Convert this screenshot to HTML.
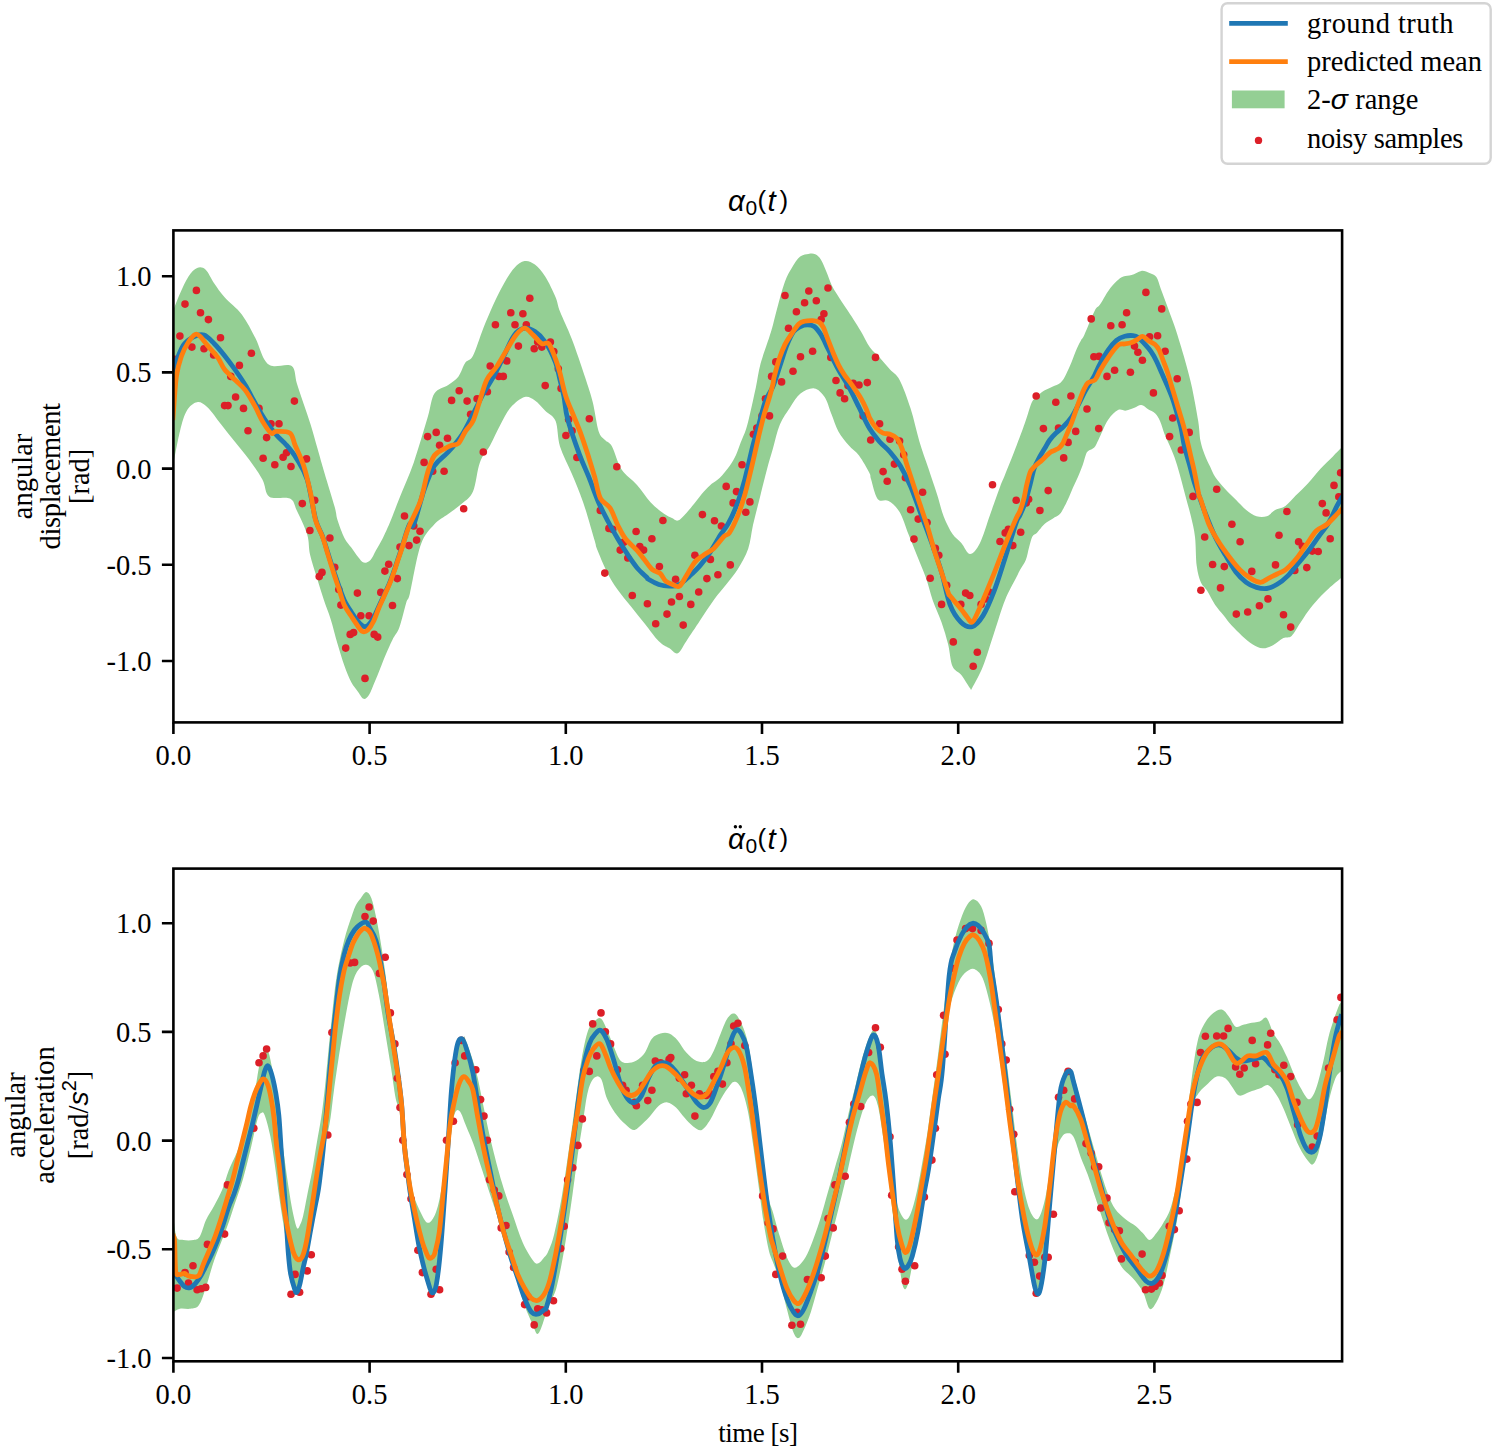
<!DOCTYPE html>
<html><head><meta charset="utf-8"><style>
html,body{margin:0;padding:0;background:#fff;}
body{width:1494px;height:1454px;overflow:hidden;}
svg{display:block;}
text{font-family:"Liberation Serif",serif;font-size:28.5px;fill:#000;}
.mi{font-family:"Liberation Sans",sans-serif;font-style:italic;font-size:29.5px;}
.ms{font-family:"Liberation Sans",sans-serif;font-size:21px;}
.mr{font-family:"Liberation Sans",sans-serif;font-style:normal;font-size:26px;}
.it{font-family:"Liberation Sans",sans-serif;font-style:italic;}
.sup{font-family:"Liberation Sans",sans-serif;font-size:20px;}
</style></head><body>
<svg width="1494" height="1454" viewBox="0 0 1494 1454">
<rect width="100%" height="100%" fill="#fff"/>
<clipPath id="ct"><rect x="173.4" y="230.4" width="1168.7" height="492.0"/></clipPath>
<g clip-path="url(#ct)">
<path d="M173.0,311.0C174.1,308.1 177.3,299.5 179.9,293.8C182.5,288.1 185.6,280.9 188.5,276.6C191.3,272.3 194.2,269.1 197.1,268.0C199.9,266.9 202.8,267.1 205.7,269.7C208.5,272.3 211.1,278.9 214.3,283.5C217.4,288.1 220.0,292.1 224.6,297.2C229.2,302.4 236.6,307.6 241.8,314.4C247.0,321.3 251.8,331.1 255.6,338.5C259.3,346.0 261.3,354.6 264.2,359.2C267.0,363.7 268.2,364.9 272.8,366.0C277.3,367.2 287.7,363.2 291.7,366.0C295.7,368.9 294.8,376.9 296.8,383.2C298.8,389.5 301.4,397.0 303.7,403.9C306.0,410.8 308.3,417.1 310.6,424.5C312.9,432.0 315.2,440.6 317.5,448.6C319.8,456.6 321.5,462.9 324.4,472.7C327.2,482.4 332.5,499.2 334.7,507.1C336.9,515.0 335.9,514.9 337.5,520.0C339.1,525.1 342.1,533.3 344.4,537.9C346.7,542.5 349.0,544.3 351.3,547.5C353.6,550.7 356.1,554.6 358.1,557.1C360.2,559.6 361.5,562.1 363.6,562.6C365.7,563.1 368.4,562.0 370.5,559.9C372.6,557.8 373.9,554.0 376.0,550.3C378.1,546.6 380.6,542.5 382.9,537.9C385.2,533.3 386.9,529.7 389.8,522.8C392.7,515.9 396.0,506.8 400.0,496.8C404.0,486.7 409.2,475.5 413.8,462.4C418.4,449.2 424.1,429.1 427.6,417.6C431.0,406.2 431.0,399.0 434.4,393.6C437.9,388.1 444.2,387.8 448.2,385.0C452.2,382.1 455.7,380.1 458.5,376.4C461.4,372.6 463.0,366.0 465.4,362.6C467.8,359.2 470.0,361.5 473.0,355.7C476.0,350.0 479.9,336.8 483.3,328.2C486.8,319.6 490.2,311.6 493.6,304.1C497.1,296.7 500.5,289.5 504.0,283.5C507.4,277.5 510.8,271.7 514.3,268.0C517.7,264.3 521.2,261.7 524.6,261.1C528.0,260.5 531.5,262.0 534.9,264.6C538.4,267.1 541.8,271.2 545.2,276.6C548.7,282.0 553.1,291.4 555.6,297.2C558.0,303.1 557.3,304.7 560.0,311.6C562.7,318.5 567.4,327.6 571.6,338.5C575.8,349.4 581.5,366.4 585.0,377.0C588.5,387.6 590.5,393.1 592.7,402.1C595.0,411.1 596.5,424.6 598.5,430.9C600.5,437.2 602.8,437.4 605.0,440.0C607.2,442.6 609.2,441.5 612.0,446.4C614.8,451.3 617.4,463.1 621.6,469.5C625.8,475.9 632.2,479.4 637.0,484.9C641.8,490.3 646.0,497.4 650.5,502.2C655.0,507.0 660.4,511.1 664.0,513.7C667.6,516.3 669.7,516.9 672.0,518.0C674.3,519.1 675.7,521.2 678.0,520.5C680.3,519.8 682.8,516.8 685.7,513.7C688.7,510.6 692.7,505.5 695.7,501.8C698.7,498.1 701.0,494.8 703.7,491.8C706.4,488.8 709.1,486.1 711.7,483.8C714.4,481.5 716.6,480.9 719.6,477.9C722.6,474.9 726.9,469.7 729.6,465.9C732.3,462.1 734.2,458.9 736.0,455.0C737.8,451.1 738.9,447.1 740.6,442.8C742.3,438.4 744.5,434.0 746.1,429.0C747.7,423.9 748.7,419.4 750.3,412.5C751.9,405.6 754.0,395.9 755.8,387.7C757.5,379.6 758.3,372.2 760.6,363.6C762.9,355.1 767.5,342.9 769.5,336.5C771.6,330.0 771.5,330.1 773.0,324.8C774.4,319.4 776.2,311.7 778.2,304.5C780.2,297.2 782.7,287.6 785.0,281.4C787.3,275.3 789.4,271.8 791.9,267.7C794.4,263.5 797.4,258.9 800.2,256.6C802.9,254.4 805.9,254.3 808.4,253.9C811.0,253.5 813.2,253.3 815.3,254.2C817.4,255.2 819.0,256.5 820.8,259.4C822.7,262.3 824.5,267.1 826.3,271.4C828.2,275.8 830.0,281.6 831.8,285.5C833.7,289.4 835.0,291.2 837.3,294.8C839.6,298.5 842.8,303.4 845.6,307.6C848.3,311.7 851.3,316.0 853.8,319.9C856.4,323.8 858.0,326.4 860.7,331.0C863.4,335.5 866.8,343.0 870.0,347.5C873.2,352.0 876.7,354.3 880.0,358.0C883.3,361.7 886.7,365.8 890.0,369.5C893.3,373.2 896.2,373.5 899.6,380.0C903.0,386.5 907.3,398.3 910.6,408.6C913.9,418.9 916.5,431.7 919.4,441.6C922.3,451.5 925.3,459.3 928.3,468.1C931.2,476.9 934.5,486.4 937.1,494.5C939.7,502.6 941.1,509.9 943.7,516.5C946.3,523.1 949.6,529.7 952.5,534.1C955.4,538.5 958.4,539.6 961.3,542.9C964.2,546.2 967.0,553.9 970.1,553.9C973.2,553.9 976.7,549.4 980.0,542.9C983.3,536.4 986.7,524.3 990.0,515.0C993.3,505.7 997.5,493.7 1000.0,487.0C1002.5,480.3 1002.7,480.4 1005.0,474.7C1007.3,469.0 1010.5,461.3 1013.8,452.7C1017.1,444.1 1022.0,431.3 1024.9,423.0C1027.9,414.7 1029.7,407.2 1031.5,403.0C1033.3,398.8 1034.2,399.8 1036.0,398.0C1037.8,396.2 1039.3,393.9 1042.0,392.0C1044.7,390.1 1049.2,388.4 1052.3,386.8C1055.4,385.2 1058.2,384.8 1060.5,382.7C1062.8,380.6 1064.2,377.8 1066.0,374.4C1067.8,370.9 1069.8,366.4 1071.6,362.0C1073.4,357.6 1075.4,352.0 1077.0,348.3C1078.6,344.6 1080.0,342.2 1081.2,340.0C1082.4,337.8 1082.0,339.9 1084.3,335.1C1086.5,330.2 1092.0,316.1 1094.6,311.0C1097.2,305.9 1097.7,307.9 1100.0,304.6C1102.3,301.3 1105.5,294.8 1108.3,290.9C1111.0,287.0 1114.0,283.7 1116.5,281.3C1119.0,278.9 1120.9,277.5 1123.4,276.5C1125.9,275.5 1128.6,276.0 1131.6,275.1C1134.6,274.2 1138.3,271.2 1141.3,270.9C1144.3,270.5 1147.0,272.0 1149.5,273.0C1152.0,274.0 1154.6,274.6 1156.4,277.1C1158.2,279.6 1159.1,284.4 1160.5,288.1C1161.9,291.8 1163.0,294.7 1164.6,299.1C1166.2,303.5 1168.3,309.2 1170.2,314.3C1172.1,319.4 1173.9,323.9 1175.7,329.4C1177.5,334.9 1179.4,341.1 1181.2,347.3C1183.0,353.5 1184.9,359.6 1186.7,366.5C1188.5,373.4 1190.3,379.5 1192.2,388.6C1194.1,397.7 1196.8,412.3 1198.2,421.0C1199.6,429.7 1199.4,435.4 1200.5,441.0C1201.6,446.6 1203.0,450.1 1204.6,454.4C1206.2,458.7 1208.4,463.0 1210.2,466.8C1212.0,470.6 1212.6,473.2 1215.2,477.0C1217.8,480.8 1222.1,485.6 1225.6,489.4C1229.0,493.2 1232.5,496.3 1235.9,499.7C1239.3,503.1 1242.8,507.2 1246.2,510.0C1249.6,512.8 1253.1,515.2 1256.5,516.2C1259.9,517.2 1263.7,517.2 1266.8,516.2C1269.9,515.2 1272.0,511.7 1275.1,510.0C1278.2,508.3 1282.0,508.3 1285.4,505.9C1288.8,503.5 1291.9,499.4 1295.7,495.6C1299.5,491.8 1304.0,487.7 1308.1,483.2C1312.2,478.7 1316.4,473.3 1320.5,468.8C1324.6,464.3 1329.5,459.8 1332.9,456.4C1336.3,452.9 1338.9,450.3 1341.1,448.1C1343.3,445.9 1345.2,443.9 1346.0,443.0L1346.0,574.0C1345.2,574.7 1344.0,575.7 1341.1,578.1C1338.2,580.5 1332.6,585.0 1328.8,588.5C1325.0,592.0 1321.9,595.0 1318.4,598.8C1315.0,602.6 1311.2,607.1 1308.1,611.2C1305.0,615.3 1302.7,619.5 1299.9,623.6C1297.2,627.7 1294.3,633.5 1291.6,635.9C1288.8,638.3 1286.5,636.5 1283.4,638.0C1280.3,639.5 1276.5,643.5 1273.0,645.2C1269.5,646.9 1266.1,648.5 1262.7,648.3C1259.3,648.1 1255.8,646.3 1252.4,644.2C1249.0,642.1 1245.5,639.0 1242.1,635.9C1238.6,632.8 1234.8,629.0 1231.7,625.6C1228.6,622.2 1226.2,618.7 1223.5,615.3C1220.8,611.9 1218.0,609.1 1215.2,605.0C1212.5,600.9 1209.4,594.3 1207.0,590.5C1204.6,586.7 1202.5,586.4 1200.8,582.3C1199.1,578.2 1197.7,573.4 1196.7,565.8C1195.7,558.2 1196.0,545.1 1195.0,536.9C1194.0,528.6 1192.5,523.2 1190.9,516.3C1189.3,509.4 1187.2,502.6 1185.4,495.7C1183.6,488.8 1181.7,481.4 1179.9,475.0C1178.1,468.6 1176.3,462.4 1174.4,457.1C1172.5,451.8 1170.2,446.9 1168.5,443.0C1166.8,439.1 1165.9,437.7 1164.5,434.0C1163.1,430.3 1161.6,424.4 1160.0,421.0C1158.4,417.6 1157.0,415.3 1155.0,413.3C1153.0,411.3 1150.4,410.6 1148.1,409.2C1145.8,407.8 1143.6,405.3 1141.3,405.1C1139.0,404.9 1136.9,406.9 1134.4,407.8C1131.9,408.7 1128.8,410.2 1126.1,410.6C1123.4,411.0 1121.0,408.4 1118.0,410.0C1115.0,411.6 1111.3,415.0 1108.0,420.0C1104.7,425.0 1100.7,435.4 1098.4,440.0C1096.1,444.6 1096.0,445.6 1094.3,447.4C1092.6,449.2 1089.9,449.6 1088.5,450.7C1087.1,451.8 1087.0,451.6 1086.1,454.0C1085.1,456.4 1084.2,460.9 1082.8,464.8C1081.4,468.7 1079.5,473.4 1077.8,477.2C1076.1,481.0 1074.4,484.2 1072.8,487.9C1071.2,491.6 1069.4,496.2 1067.9,499.5C1066.4,502.8 1065.2,505.2 1063.8,507.7C1062.4,510.2 1061.4,512.5 1059.6,514.3C1057.8,516.1 1055.2,517.0 1053.0,518.4C1050.8,519.8 1048.5,520.9 1046.4,522.6C1044.3,524.3 1042.2,526.6 1040.6,528.4C1038.9,530.2 1037.9,531.9 1036.5,533.3C1035.1,534.7 1033.6,534.3 1032.4,536.6C1031.2,538.9 1030.2,543.4 1029.1,547.3C1028.0,551.2 1027.3,556.2 1025.8,560.0C1024.3,563.8 1021.6,567.0 1020.0,570.0C1018.4,573.0 1018.5,573.1 1016.0,578.1C1013.5,583.1 1008.7,591.0 1005.0,600.2C1001.3,609.4 997.7,622.2 994.0,633.2C990.3,644.2 986.7,657.0 983.0,666.2C979.3,675.4 974.1,684.5 972.0,688.2C969.9,691.9 971.9,690.4 970.1,688.2C968.3,686.0 964.2,678.7 961.3,675.0C958.4,671.3 954.7,671.3 952.5,666.2C950.3,661.1 949.9,651.5 948.1,644.2C946.3,636.9 944.1,629.5 941.5,622.2C938.9,614.9 935.3,607.6 932.7,600.2C930.1,592.9 928.6,585.5 926.0,578.1C923.4,570.8 920.1,563.4 917.2,556.1C914.3,548.8 911.3,541.4 908.4,534.1C905.5,526.8 902.9,517.6 899.6,512.1C896.3,506.6 892.3,503.3 888.6,501.1C884.9,498.9 880.5,502.6 877.6,498.9C874.7,495.2 872.4,483.5 871.0,479.1C869.6,474.7 871.3,476.6 869.3,472.7C867.3,468.7 862.4,460.1 859.0,455.5C855.6,450.9 852.1,449.2 848.7,445.2C845.2,441.1 841.2,436.6 838.4,431.4C835.5,426.2 833.8,419.9 831.5,414.2C829.2,408.5 827.5,401.3 824.6,397.0C821.7,392.7 818.3,389.0 814.3,388.4C810.3,387.8 804.5,390.4 800.5,393.6C796.5,396.7 793.6,402.2 790.2,407.3C786.8,412.5 782.7,417.7 779.9,424.5C777.0,431.3 775.2,440.7 773.0,448.3C770.8,455.8 769.0,461.7 766.8,469.9C764.6,478.1 762.2,488.3 759.9,497.4C757.6,506.6 755.0,516.4 753.0,525.0C751.1,533.5 750.7,541.4 748.2,548.7C745.7,556.0 741.3,563.3 737.9,569.0C734.4,574.7 731.6,577.6 727.6,582.8C723.5,587.9 718.4,593.7 713.8,600.0C709.2,606.3 704.6,613.7 700.0,620.6C695.5,627.5 690.0,635.8 686.3,641.2C682.6,646.7 680.5,652.1 677.7,653.3C674.8,654.4 672.2,650.1 669.1,648.1C665.9,646.1 662.8,645.2 658.8,641.2C654.7,637.2 649.6,629.8 645.0,624.0C640.4,618.3 635.8,612.6 631.2,606.8C626.7,601.1 621.5,595.4 617.5,589.6C613.5,583.9 610.6,579.3 607.2,572.4C603.7,565.6 598.9,553.6 596.8,548.4C594.8,543.1 597.0,548.4 594.7,540.7C592.4,533.0 587.0,513.4 583.1,502.2C579.2,491.0 575.5,482.6 571.6,473.3C567.8,464.0 562.7,455.1 560.0,446.4C557.3,437.7 558.0,427.0 555.6,421.1C553.1,415.1 548.7,414.2 545.2,410.8C541.8,407.3 538.4,402.7 534.9,400.4C531.5,398.1 528.6,395.9 524.6,397.0C520.6,398.1 514.9,402.7 510.8,407.3C506.8,411.9 504.0,418.2 500.5,424.5C497.1,430.8 493.6,438.9 490.2,445.2C486.8,451.5 482.7,454.6 479.9,462.4C477.0,470.1 476.0,484.7 473.0,491.6C470.0,498.5 466.1,499.9 462.0,503.6C457.8,507.4 452.8,510.5 448.2,514.0C443.6,517.4 439.0,519.1 434.4,524.3C429.9,529.4 424.8,533.5 420.7,544.9C416.6,556.4 412.4,583.3 410.0,592.9C407.6,602.5 408.1,596.8 406.3,602.5C404.5,608.2 401.7,621.1 399.4,627.3C397.1,633.5 394.8,635.1 392.5,639.7C390.2,644.3 387.8,650.0 385.7,654.8C383.6,659.6 382.0,664.0 380.2,668.6C378.4,673.2 376.5,677.9 374.6,682.3C372.8,686.6 370.9,692.0 369.1,694.7C367.3,697.5 365.4,699.3 363.6,698.8C361.8,698.3 360.2,694.6 358.1,691.9C356.1,689.1 353.6,686.6 351.3,682.3C349.0,677.9 346.7,672.2 344.4,665.8C342.1,659.4 339.8,651.6 337.5,643.8C335.2,636.0 332.9,626.3 330.6,619.0C328.3,611.7 326.1,606.7 323.8,599.8C321.5,592.9 319.2,585.4 316.9,577.8C314.6,570.2 311.6,561.6 310.0,554.4C308.4,547.2 309.4,541.9 307.2,534.6C305.0,527.3 299.7,516.5 296.8,510.5C294.0,504.5 294.5,500.8 290.0,498.5C285.4,496.2 273.9,499.9 269.3,496.8C264.7,493.6 265.9,485.9 262.4,479.6C259.0,473.3 253.3,465.2 248.7,458.9C244.1,452.6 239.5,447.5 234.9,441.7C230.3,436.0 225.7,430.3 221.2,424.5C216.6,418.8 211.4,411.0 207.4,407.3C203.4,403.6 200.5,401.6 197.1,402.2C193.6,402.7 189.6,405.9 186.8,410.8C183.9,415.6 182.2,422.2 179.9,431.4C177.6,440.6 174.1,460.1 173.0,465.8Z" fill="#94cf94" stroke="none"/>
<g fill="#dc1f28"><circle cx="185.0" cy="304.1" r="3.8"/><circle cx="196.4" cy="290.4" r="3.8"/><circle cx="200.5" cy="312.7" r="3.8"/><circle cx="208.4" cy="319.6" r="3.8"/><circle cx="179.9" cy="336.1" r="3.8"/><circle cx="191.9" cy="347.1" r="3.8"/><circle cx="204.0" cy="348.8" r="3.8"/><circle cx="213.6" cy="355.0" r="3.8"/><circle cx="220.5" cy="337.8" r="3.8"/><circle cx="251.4" cy="353.3" r="3.8"/><circle cx="239.4" cy="365.4" r="3.8"/><circle cx="230.8" cy="376.4" r="3.8"/><circle cx="235.6" cy="397.0" r="3.8"/><circle cx="224.6" cy="405.6" r="3.8"/><circle cx="228.0" cy="405.6" r="3.8"/><circle cx="243.5" cy="408.4" r="3.8"/><circle cx="259.0" cy="408.4" r="3.8"/><circle cx="248.0" cy="430.7" r="3.8"/><circle cx="266.6" cy="437.6" r="3.8"/><circle cx="271.0" cy="423.8" r="3.8"/><circle cx="279.0" cy="423.8" r="3.8"/><circle cx="294.4" cy="401.1" r="3.8"/><circle cx="263.1" cy="458.2" r="3.8"/><circle cx="274.8" cy="464.8" r="3.8"/><circle cx="283.1" cy="457.2" r="3.8"/><circle cx="286.5" cy="452.7" r="3.8"/><circle cx="291.0" cy="466.5" r="3.8"/><circle cx="306.5" cy="458.9" r="3.8"/><circle cx="302.3" cy="503.6" r="3.8"/><circle cx="314.7" cy="500.2" r="3.8"/><circle cx="309.9" cy="530.5" r="3.8"/><circle cx="329.9" cy="538.0" r="3.8"/><circle cx="319.2" cy="576.6" r="3.8"/><circle cx="322.0" cy="572.4" r="3.8"/><circle cx="334.7" cy="567.3" r="3.8"/><circle cx="338.8" cy="589.6" r="3.8"/><circle cx="340.9" cy="605.1" r="3.8"/><circle cx="357.4" cy="593.1" r="3.8"/><circle cx="360.8" cy="615.8" r="3.8"/><circle cx="369.1" cy="615.8" r="3.8"/><circle cx="350.2" cy="634.4" r="3.8"/><circle cx="353.6" cy="632.6" r="3.8"/><circle cx="345.7" cy="648.1" r="3.8"/><circle cx="365.0" cy="678.4" r="3.8"/><circle cx="374.2" cy="634.4" r="3.8"/><circle cx="377.7" cy="637.1" r="3.8"/><circle cx="380.8" cy="592.4" r="3.8"/><circle cx="384.9" cy="571.1" r="3.8"/><circle cx="388.7" cy="564.2" r="3.8"/><circle cx="392.5" cy="605.5" r="3.8"/><circle cx="397.3" cy="578.6" r="3.8"/><circle cx="404.5" cy="516.0" r="3.8"/><circle cx="400.0" cy="547.0" r="3.8"/><circle cx="409.0" cy="545.6" r="3.8"/><circle cx="416.6" cy="540.1" r="3.8"/><circle cx="420.0" cy="531.2" r="3.8"/><circle cx="413.8" cy="526.0" r="3.8"/><circle cx="424.1" cy="462.4" r="3.8"/><circle cx="427.6" cy="436.6" r="3.8"/><circle cx="436.2" cy="432.4" r="3.8"/><circle cx="439.6" cy="445.2" r="3.8"/><circle cx="447.5" cy="438.3" r="3.8"/><circle cx="444.1" cy="471.3" r="3.8"/><circle cx="432.7" cy="471.3" r="3.8"/><circle cx="451.6" cy="400.4" r="3.8"/><circle cx="459.2" cy="390.8" r="3.8"/><circle cx="467.1" cy="401.1" r="3.8"/><circle cx="470.6" cy="414.2" r="3.8"/><circle cx="463.7" cy="508.8" r="3.8"/><circle cx="174.7" cy="359.2" r="3.8"/><circle cx="483.3" cy="452.0" r="3.8"/><circle cx="477.1" cy="398.7" r="3.8"/><circle cx="487.4" cy="391.8" r="3.8"/><circle cx="490.2" cy="366.0" r="3.8"/><circle cx="495.4" cy="324.8" r="3.8"/><circle cx="498.8" cy="376.4" r="3.8"/><circle cx="503.3" cy="376.4" r="3.8"/><circle cx="506.7" cy="360.9" r="3.8"/><circle cx="510.8" cy="312.7" r="3.8"/><circle cx="515.0" cy="324.8" r="3.8"/><circle cx="518.4" cy="346.1" r="3.8"/><circle cx="522.9" cy="313.8" r="3.8"/><circle cx="526.3" cy="324.8" r="3.8"/><circle cx="529.8" cy="298.3" r="3.8"/><circle cx="534.2" cy="348.8" r="3.8"/><circle cx="537.7" cy="342.0" r="3.8"/><circle cx="541.8" cy="347.1" r="3.8"/><circle cx="550.4" cy="342.0" r="3.8"/><circle cx="553.8" cy="351.6" r="3.8"/><circle cx="545.2" cy="385.6" r="3.8"/><circle cx="558.3" cy="368.8" r="3.8"/><circle cx="561.1" cy="388.4" r="3.8"/><circle cx="568.6" cy="419.4" r="3.8"/><circle cx="572.1" cy="430.7" r="3.8"/><circle cx="565.9" cy="435.5" r="3.8"/><circle cx="576.9" cy="457.5" r="3.8"/><circle cx="589.3" cy="418.7" r="3.8"/><circle cx="616.8" cy="466.8" r="3.8"/><circle cx="600.3" cy="510.5" r="3.8"/><circle cx="608.9" cy="528.4" r="3.8"/><circle cx="612.7" cy="529.4" r="3.8"/><circle cx="620.2" cy="550.1" r="3.8"/><circle cx="623.7" cy="542.2" r="3.8"/><circle cx="627.8" cy="558.0" r="3.8"/><circle cx="636.1" cy="531.5" r="3.8"/><circle cx="639.8" cy="546.6" r="3.8"/><circle cx="643.6" cy="550.1" r="3.8"/><circle cx="651.9" cy="538.7" r="3.8"/><circle cx="659.4" cy="566.6" r="3.8"/><circle cx="662.9" cy="520.5" r="3.8"/><circle cx="604.8" cy="573.1" r="3.8"/><circle cx="632.3" cy="595.5" r="3.8"/><circle cx="647.4" cy="603.7" r="3.8"/><circle cx="655.7" cy="623.7" r="3.8"/><circle cx="667.0" cy="614.1" r="3.8"/><circle cx="671.5" cy="602.0" r="3.8"/><circle cx="675.6" cy="579.3" r="3.8"/><circle cx="679.4" cy="596.5" r="3.8"/><circle cx="683.2" cy="625.1" r="3.8"/><circle cx="690.8" cy="604.4" r="3.8"/><circle cx="694.9" cy="555.2" r="3.8"/><circle cx="698.7" cy="592.0" r="3.8"/><circle cx="702.4" cy="514.6" r="3.8"/><circle cx="706.9" cy="578.6" r="3.8"/><circle cx="710.4" cy="559.4" r="3.8"/><circle cx="714.5" cy="520.8" r="3.8"/><circle cx="717.9" cy="574.8" r="3.8"/><circle cx="721.4" cy="526.0" r="3.8"/><circle cx="726.2" cy="486.4" r="3.8"/><circle cx="730.3" cy="564.9" r="3.8"/><circle cx="733.1" cy="502.9" r="3.8"/><circle cx="736.5" cy="491.6" r="3.8"/><circle cx="742.0" cy="464.8" r="3.8"/><circle cx="745.8" cy="512.2" r="3.8"/><circle cx="749.9" cy="501.9" r="3.8"/><circle cx="753.4" cy="434.2" r="3.8"/><circle cx="756.8" cy="428.0" r="3.8"/><circle cx="762.0" cy="415.9" r="3.8"/><circle cx="765.4" cy="398.7" r="3.8"/><circle cx="769.5" cy="415.9" r="3.8"/><circle cx="771.6" cy="376.4" r="3.8"/><circle cx="785.0" cy="295.5" r="3.8"/><circle cx="796.4" cy="311.7" r="3.8"/><circle cx="804.6" cy="302.7" r="3.8"/><circle cx="808.8" cy="291.0" r="3.8"/><circle cx="816.3" cy="300.7" r="3.8"/><circle cx="823.9" cy="313.8" r="3.8"/><circle cx="828.0" cy="288.0" r="3.8"/><circle cx="821.2" cy="319.6" r="3.8"/><circle cx="788.5" cy="328.2" r="3.8"/><circle cx="800.5" cy="356.8" r="3.8"/><circle cx="812.6" cy="351.2" r="3.8"/><circle cx="793.0" cy="371.2" r="3.8"/><circle cx="781.6" cy="381.9" r="3.8"/><circle cx="775.8" cy="361.9" r="3.8"/><circle cx="830.8" cy="357.4" r="3.8"/><circle cx="836.0" cy="380.5" r="3.8"/><circle cx="840.1" cy="392.9" r="3.8"/><circle cx="844.6" cy="398.7" r="3.8"/><circle cx="848.0" cy="385.6" r="3.8"/><circle cx="853.2" cy="383.2" r="3.8"/><circle cx="859.0" cy="385.0" r="3.8"/><circle cx="867.3" cy="382.6" r="3.8"/><circle cx="875.5" cy="357.4" r="3.8"/><circle cx="863.1" cy="415.9" r="3.8"/><circle cx="870.7" cy="440.0" r="3.8"/><circle cx="879.6" cy="423.8" r="3.8"/><circle cx="890.0" cy="439.3" r="3.8"/><circle cx="899.6" cy="441.0" r="3.8"/><circle cx="903.7" cy="454.8" r="3.8"/><circle cx="894.4" cy="464.1" r="3.8"/><circle cx="883.1" cy="471.6" r="3.8"/><circle cx="887.2" cy="481.3" r="3.8"/><circle cx="905.4" cy="477.8" r="3.8"/><circle cx="910.6" cy="509.8" r="3.8"/><circle cx="918.2" cy="519.1" r="3.8"/><circle cx="922.6" cy="492.3" r="3.8"/><circle cx="927.1" cy="522.6" r="3.8"/><circle cx="914.0" cy="539.1" r="3.8"/><circle cx="935.4" cy="548.4" r="3.8"/><circle cx="938.8" cy="555.2" r="3.8"/><circle cx="930.2" cy="578.3" r="3.8"/><circle cx="946.7" cy="585.2" r="3.8"/><circle cx="941.6" cy="604.4" r="3.8"/><circle cx="960.8" cy="604.4" r="3.8"/><circle cx="965.6" cy="593.1" r="3.8"/><circle cx="969.8" cy="595.5" r="3.8"/><circle cx="953.3" cy="641.9" r="3.8"/><circle cx="977.3" cy="652.2" r="3.8"/><circle cx="973.2" cy="666.3" r="3.8"/><circle cx="981.1" cy="604.4" r="3.8"/><circle cx="985.6" cy="598.9" r="3.8"/><circle cx="989.0" cy="592.0" r="3.8"/><circle cx="992.5" cy="484.7" r="3.8"/><circle cx="1000.0" cy="541.5" r="3.8"/><circle cx="1005.2" cy="532.9" r="3.8"/><circle cx="1008.3" cy="529.4" r="3.8"/><circle cx="1012.8" cy="545.6" r="3.8"/><circle cx="1016.2" cy="500.2" r="3.8"/><circle cx="1020.7" cy="532.2" r="3.8"/><circle cx="1026.2" cy="502.9" r="3.8"/><circle cx="1028.6" cy="499.2" r="3.8"/><circle cx="1036.2" cy="396.0" r="3.8"/><circle cx="1043.4" cy="428.6" r="3.8"/><circle cx="1048.2" cy="490.6" r="3.8"/><circle cx="1039.9" cy="510.5" r="3.8"/><circle cx="1055.8" cy="402.2" r="3.8"/><circle cx="1058.5" cy="428.0" r="3.8"/><circle cx="1063.7" cy="457.9" r="3.8"/><circle cx="1068.1" cy="442.4" r="3.8"/><circle cx="1070.9" cy="396.0" r="3.8"/><circle cx="1075.7" cy="431.4" r="3.8"/><circle cx="1091.2" cy="318.9" r="3.8"/><circle cx="1093.9" cy="356.8" r="3.8"/><circle cx="1099.1" cy="356.4" r="3.8"/><circle cx="1087.0" cy="409.0" r="3.8"/><circle cx="1098.7" cy="428.6" r="3.8"/><circle cx="1107.0" cy="376.4" r="3.8"/><circle cx="1110.8" cy="325.8" r="3.8"/><circle cx="1114.6" cy="370.2" r="3.8"/><circle cx="1122.1" cy="324.8" r="3.8"/><circle cx="1126.6" cy="312.7" r="3.8"/><circle cx="1130.4" cy="372.2" r="3.8"/><circle cx="1134.5" cy="346.1" r="3.8"/><circle cx="1137.9" cy="352.3" r="3.8"/><circle cx="1142.4" cy="360.2" r="3.8"/><circle cx="1145.9" cy="292.4" r="3.8"/><circle cx="1149.6" cy="336.8" r="3.8"/><circle cx="1157.6" cy="335.8" r="3.8"/><circle cx="1161.7" cy="308.9" r="3.8"/><circle cx="1165.1" cy="351.2" r="3.8"/><circle cx="1153.4" cy="392.9" r="3.8"/><circle cx="1177.2" cy="378.8" r="3.8"/><circle cx="1172.7" cy="418.0" r="3.8"/><circle cx="1169.6" cy="436.6" r="3.8"/><circle cx="1181.3" cy="450.0" r="3.8"/><circle cx="1189.2" cy="432.4" r="3.8"/><circle cx="1193.0" cy="496.4" r="3.8"/><circle cx="1216.7" cy="489.2" r="3.8"/><circle cx="1204.7" cy="537.0" r="3.8"/><circle cx="1231.9" cy="524.3" r="3.8"/><circle cx="1240.1" cy="541.8" r="3.8"/><circle cx="1212.6" cy="564.5" r="3.8"/><circle cx="1224.3" cy="566.6" r="3.8"/><circle cx="1200.9" cy="590.3" r="3.8"/><circle cx="1220.5" cy="587.9" r="3.8"/><circle cx="1236.3" cy="614.1" r="3.8"/><circle cx="1247.7" cy="612.0" r="3.8"/><circle cx="1259.4" cy="605.8" r="3.8"/><circle cx="1268.0" cy="598.9" r="3.8"/><circle cx="1251.8" cy="571.4" r="3.8"/><circle cx="1275.5" cy="564.9" r="3.8"/><circle cx="1279.0" cy="535.3" r="3.8"/><circle cx="1283.5" cy="614.7" r="3.8"/><circle cx="1290.7" cy="627.1" r="3.8"/><circle cx="1286.9" cy="511.5" r="3.8"/><circle cx="1294.8" cy="570.4" r="3.8"/><circle cx="1298.6" cy="541.8" r="3.8"/><circle cx="1302.4" cy="546.3" r="3.8"/><circle cx="1306.8" cy="567.6" r="3.8"/><circle cx="1312.3" cy="551.1" r="3.8"/><circle cx="1318.2" cy="551.5" r="3.8"/><circle cx="1322.3" cy="503.6" r="3.8"/><circle cx="1326.1" cy="512.9" r="3.8"/><circle cx="1330.2" cy="538.7" r="3.8"/><circle cx="1334.0" cy="485.4" r="3.8"/><circle cx="1338.8" cy="496.8" r="3.8"/><circle cx="1340.6" cy="472.7" r="3.8"/></g>
<path d="M173.0,369.5C174.7,365.5 179.9,350.8 183.3,345.4C186.8,340.0 190.2,338.5 193.6,336.8C197.1,335.1 200.5,333.9 204.0,335.1C207.4,336.2 210.8,340.2 214.3,343.7C217.7,347.1 221.2,351.4 224.6,355.7C228.0,360.0 231.5,364.6 234.9,369.5C238.4,374.4 241.8,379.2 245.2,385.0C248.7,390.7 252.1,397.9 255.6,403.9C259.0,409.9 262.4,415.9 265.9,421.1C269.3,426.2 272.8,430.8 276.2,434.8C279.6,438.9 283.1,441.1 286.5,445.2C290.0,449.2 293.4,453.2 296.8,458.9C300.3,464.7 304.0,469.5 307.2,479.6C310.3,489.6 313.0,509.6 315.5,519.0C318.0,528.4 320.3,530.3 322.4,536.0C324.5,541.7 326.1,547.3 327.9,553.0C329.7,558.7 331.6,564.5 333.4,570.0C335.2,575.5 337.1,580.9 338.9,586.0C340.7,591.1 342.3,596.2 344.4,600.5C346.5,604.8 349.2,608.8 351.3,612.0C353.4,615.2 355.0,617.8 356.8,620.0C358.6,622.2 360.6,624.4 362.0,625.5C363.4,626.6 363.9,626.7 365.0,626.6C366.1,626.5 367.1,626.4 368.5,625.0C369.9,623.6 371.6,621.6 373.3,618.5C375.0,615.4 377.0,610.5 378.8,606.5C380.6,602.5 382.5,598.7 384.3,594.7C386.1,590.7 388.2,586.2 389.8,582.3C391.4,578.4 392.5,575.2 393.9,571.3C395.3,567.4 396.6,563.1 398.0,559.0C399.4,554.9 400.8,550.8 402.2,546.5C403.6,542.2 405.0,536.8 406.3,533.0C407.6,529.2 408.8,525.0 410.0,523.5C411.2,522.0 411.4,529.9 413.8,524.3C416.2,518.7 420.7,499.6 424.1,489.9C427.6,480.1 430.4,472.1 434.4,465.8C438.5,459.5 443.6,457.2 448.2,452.0C452.8,446.9 457.8,441.1 462.0,434.8C466.1,428.5 469.4,421.1 473.0,414.2C476.5,407.3 479.9,399.9 483.3,393.6C486.8,387.3 490.2,382.7 493.6,376.4C497.1,370.1 500.5,362.6 504.0,355.7C507.4,348.8 510.8,339.7 514.3,335.1C517.7,330.5 521.2,328.8 524.6,328.2C528.0,327.6 531.5,329.3 534.9,331.6C538.4,333.9 541.8,336.8 545.2,342.0C548.7,347.1 553.1,356.3 555.6,362.6C558.0,368.9 558.6,374.4 560.0,380.0C561.4,385.6 562.6,389.7 563.9,396.3C565.2,402.9 565.1,409.8 567.7,419.4C570.3,429.0 575.8,444.5 579.3,454.1C582.8,463.7 585.7,469.2 588.9,477.2C592.1,485.2 595.3,494.8 598.5,502.2C601.7,509.6 604.9,515.4 608.1,521.5C611.3,527.6 614.6,533.3 617.8,538.8C621.0,544.2 624.2,549.4 627.4,554.2C630.6,559.0 633.8,563.9 637.0,567.7C640.2,571.6 644.8,575.4 646.7,577.3C648.6,579.2 646.4,578.1 648.4,579.3C650.4,580.5 655.3,583.3 658.8,584.5C662.2,585.6 665.6,586.2 669.1,586.2C672.5,586.2 676.0,586.2 679.4,584.5C682.8,582.8 686.3,579.0 689.7,575.9C693.2,572.7 696.6,569.6 700.0,565.6C703.5,561.5 706.9,557.0 710.4,551.8C713.8,546.6 717.7,539.3 720.7,534.6C723.7,529.9 725.6,528.4 728.2,523.6C730.9,518.8 733.7,513.0 736.5,505.7C739.3,498.4 742.0,489.6 744.8,479.6C747.5,469.5 750.7,454.1 753.0,445.2C755.3,436.2 756.5,433.2 758.5,425.9C760.6,418.6 763.0,407.7 765.4,401.1C767.8,394.5 770.6,392.2 773.0,386.3C775.4,380.5 777.6,372.9 779.9,366.0C782.2,359.2 784.5,351.1 786.8,345.4C789.1,339.7 791.3,334.8 793.6,331.6C795.9,328.5 798.2,327.6 800.5,326.5C802.8,325.3 805.1,324.8 807.4,324.8C809.7,324.8 812.0,324.8 814.3,326.5C816.6,328.2 818.9,331.4 821.2,335.1C823.5,338.8 825.2,343.1 828.0,348.8C830.9,354.6 834.9,363.2 838.4,369.5C841.8,375.8 845.2,380.4 848.7,386.7C852.1,393.0 855.6,400.4 859.0,407.3C862.4,414.2 865.9,422.2 869.3,428.0C872.8,433.7 876.2,437.7 879.6,441.7C883.1,445.7 886.5,448.0 890.0,452.0C893.4,456.1 896.8,460.1 900.3,465.8C903.7,471.5 907.2,478.4 910.6,486.4C914.0,494.5 917.5,504.8 920.9,514.0C924.4,523.1 927.8,531.7 931.2,541.5C934.7,551.2 938.4,561.9 941.6,572.4C944.7,583.0 946.8,596.3 950.0,604.6C953.2,612.9 957.3,618.5 961.0,622.2C964.7,625.9 968.3,627.7 972.0,626.6C975.7,625.5 979.3,621.5 983.0,615.6C986.7,609.7 990.3,601.0 994.0,591.4C997.7,581.8 1001.3,569.7 1005.0,558.3C1008.7,546.9 1013.5,530.3 1016.0,523.1C1018.5,515.9 1018.5,518.4 1020.0,515.0C1021.5,511.6 1023.4,507.9 1025.0,503.0C1026.7,498.1 1028.4,491.1 1029.9,485.4C1031.4,479.7 1032.5,473.4 1034.0,468.9C1035.5,464.4 1037.2,461.6 1039.0,458.2C1040.8,454.8 1043.0,451.3 1044.8,448.3C1046.6,445.3 1047.8,442.6 1049.7,440.0C1051.6,437.4 1053.7,435.2 1056.0,433.0C1058.3,430.8 1060.7,429.3 1063.3,426.7C1065.9,424.1 1069.1,420.8 1071.6,417.1C1074.1,413.4 1076.1,409.1 1078.4,404.7C1080.7,400.3 1082.8,395.5 1085.3,390.9C1087.8,386.3 1091.1,381.7 1093.6,377.2C1096.0,372.7 1097.5,368.3 1100.0,363.8C1102.5,359.3 1105.5,353.9 1108.3,350.0C1111.0,346.1 1113.8,342.7 1116.5,340.4C1119.2,338.1 1122.0,337.1 1124.8,336.3C1127.5,335.5 1130.7,335.4 1133.0,335.6C1135.3,335.8 1136.7,336.4 1138.5,337.7C1140.3,339.0 1141.9,340.9 1144.0,343.2C1146.1,345.5 1148.8,348.4 1150.9,351.4C1153.0,354.4 1154.6,357.3 1156.4,361.0C1158.2,364.7 1160.1,369.3 1161.9,373.4C1163.7,377.5 1165.6,381.4 1167.4,385.8C1169.2,390.2 1171.3,395.0 1172.9,399.6C1174.5,404.2 1175.6,408.5 1177.0,413.3C1178.4,418.1 1180.0,422.9 1181.2,428.4C1182.4,433.8 1182.9,440.0 1184.3,446.0C1185.7,452.0 1187.8,458.3 1189.5,464.5C1191.2,470.7 1192.8,477.5 1194.6,483.2C1196.3,488.9 1198.3,493.7 1200.0,498.5C1201.7,503.3 1202.4,505.7 1204.9,512.1C1207.4,518.5 1211.8,529.7 1215.2,536.9C1218.7,544.1 1222.1,549.5 1225.6,555.4C1229.0,561.2 1232.5,567.5 1235.9,572.0C1239.3,576.5 1242.8,579.7 1246.2,582.3C1249.6,584.9 1253.1,586.4 1256.5,587.4C1259.9,588.4 1263.3,589.0 1266.8,588.5C1270.2,588.0 1273.8,586.4 1277.2,584.3C1280.7,582.2 1284.1,579.5 1287.5,576.1C1290.9,572.7 1294.4,567.8 1297.8,563.7C1301.2,559.6 1304.7,555.8 1308.1,551.3C1311.5,546.8 1315.0,541.7 1318.4,536.9C1321.9,532.1 1325.7,527.6 1328.8,522.4C1331.9,517.2 1334.6,510.4 1337.0,505.9C1339.4,501.4 1341.5,498.2 1343.0,495.6C1344.5,493.0 1345.5,490.9 1346.0,490.0" fill="none" stroke="#1f77b4" stroke-width="4.8" stroke-linejoin="round" stroke-linecap="square"/>
<path d="M173.0,417.6C173.6,410.8 175.0,386.7 176.4,376.4C177.9,366.0 179.6,361.5 181.6,355.7C183.6,350.0 186.2,345.5 188.5,342.0C190.8,338.4 193.4,335.3 195.4,334.4C197.4,333.5 198.5,335.0 200.5,336.8C202.5,338.6 204.5,342.0 207.4,345.4C210.3,348.8 214.9,353.4 217.7,357.4C220.6,361.5 221.7,365.8 224.6,369.5C227.5,373.2 231.5,376.4 234.9,379.8C238.4,383.2 241.8,385.5 245.2,390.1C248.7,394.7 252.7,402.2 255.6,407.3C258.4,412.5 259.9,416.8 262.4,421.1C265.0,425.4 268.7,431.4 271.0,433.1C273.3,434.8 273.0,431.4 276.2,431.4C279.4,431.4 286.8,430.8 290.0,433.1C293.1,435.4 292.8,439.7 295.1,445.2C297.4,450.6 301.1,457.8 303.7,465.8C306.3,473.8 308.6,484.3 310.6,493.3C312.6,502.4 313.5,512.8 315.5,520.0C317.5,527.2 320.3,530.8 322.4,536.5C324.5,542.2 326.1,548.4 327.9,554.4C329.7,560.4 331.6,566.6 333.4,572.3C335.2,578.0 337.1,583.3 338.9,588.8C340.7,594.3 342.3,600.7 344.4,605.3C346.5,609.9 349.2,613.1 351.3,616.3C353.4,619.5 355.0,622.0 356.8,624.5C358.6,627.0 360.5,630.5 362.3,631.4C364.1,632.3 366.0,631.6 367.8,630.0C369.6,628.4 371.5,625.5 373.3,621.8C375.1,618.1 377.0,612.4 378.8,608.0C380.6,603.6 382.5,599.8 384.3,595.7C386.1,591.6 388.2,587.2 389.8,583.3C391.4,579.4 392.5,576.2 393.9,572.3C395.3,568.4 396.6,564.0 398.0,559.9C399.4,555.8 400.8,551.9 402.2,547.5C403.6,543.1 405.0,537.7 406.3,533.8C407.6,529.9 407.6,529.7 410.0,524.1C412.4,518.5 417.8,508.8 420.7,500.2C423.6,491.6 425.3,480.1 427.6,472.7C429.9,465.2 431.6,459.5 434.4,455.5C437.3,451.5 441.9,450.3 444.8,448.6C447.6,446.9 449.3,446.0 451.6,445.2C453.9,444.3 456.2,445.7 458.5,443.4C460.8,441.1 463.0,435.1 465.4,431.4C467.8,427.7 470.6,426.2 473.0,421.1C475.4,415.9 477.6,407.3 479.9,400.4C482.2,393.6 483.9,385.5 486.8,379.8C489.6,374.1 493.6,371.2 497.1,366.0C500.5,360.9 504.2,354.0 507.4,348.8C510.6,343.7 513.1,338.5 516.0,335.1C518.9,331.6 521.7,328.2 524.6,328.2C527.5,328.2 530.3,332.5 533.2,335.1C536.1,337.7 539.2,342.2 541.8,343.7C544.4,345.1 546.4,341.1 548.7,343.7C551.0,346.3 553.7,354.2 555.6,359.2C557.4,364.1 558.3,367.0 560.0,373.2C561.7,379.4 563.5,389.2 565.8,396.3C568.0,403.4 570.9,409.1 573.5,415.5C576.1,421.9 578.6,427.7 581.2,434.8C583.8,441.9 586.6,450.8 588.9,457.9C591.1,465.0 592.8,470.5 594.7,477.2C596.6,483.9 597.8,493.2 600.4,498.3C603.0,503.4 607.2,503.5 610.1,508.0C613.0,512.5 615.2,520.2 617.8,525.3C620.4,530.4 622.3,534.6 625.5,538.8C628.7,543.0 633.8,546.8 637.0,550.3C640.2,553.8 642.1,556.8 644.7,560.0C647.3,563.2 649.8,567.4 652.4,569.6C655.0,571.8 657.9,571.5 660.1,573.4C662.3,575.3 663.6,579.2 665.6,581.0C667.7,582.9 670.2,583.6 672.5,584.5C674.8,585.3 677.1,587.6 679.4,586.2C681.7,584.8 683.7,579.9 686.3,575.9C688.9,571.9 692.0,565.6 694.9,562.1C697.7,558.7 700.3,557.5 703.5,555.2C706.6,552.9 710.4,551.5 713.8,548.4C717.2,545.2 721.5,538.9 724.1,536.3C726.7,533.7 727.0,536.4 729.3,532.9C731.6,529.4 735.3,521.7 737.9,515.3C740.5,509.0 742.5,502.7 744.8,494.7C747.1,486.7 749.3,476.8 751.6,467.2C753.9,457.5 756.5,445.6 758.5,436.9C760.6,428.2 762.2,421.5 764.0,414.9C765.9,408.2 768.0,402.2 769.5,397.0C771.0,391.8 772.2,387.1 773.0,383.9C773.7,380.7 772.9,382.0 774.0,377.7C775.1,373.4 777.7,363.7 779.5,358.1C781.4,352.6 783.0,348.5 785.0,344.4C787.1,340.2 789.6,336.7 791.9,333.4C794.2,330.0 796.7,326.1 798.8,324.1C800.9,322.1 802.0,321.9 804.3,321.3C806.6,320.7 810.0,320.5 812.6,320.6C815.1,320.8 817.6,321.1 819.4,322.4C821.3,323.6 822.2,325.1 823.6,327.9C824.9,330.6 826.1,334.7 827.7,338.9C829.3,343.0 831.4,348.6 833.2,353.0C835.0,357.4 836.9,361.7 838.7,365.4C840.5,369.0 842.4,371.9 844.2,374.6C846.0,377.4 847.9,379.3 849.7,381.9C851.5,384.4 853.4,387.1 855.2,389.8C857.0,392.5 858.9,394.8 860.7,398.0C862.6,401.2 864.7,405.6 866.2,409.0C867.8,412.5 868.3,415.5 870.0,418.7C871.7,421.8 874.0,425.6 876.2,428.0C878.4,430.4 880.8,432.1 883.1,433.1C885.4,434.2 887.7,433.3 890.0,434.2C892.3,435.0 894.8,435.9 896.8,438.3C898.8,440.7 900.3,444.0 902.0,448.6C903.7,453.2 905.2,459.5 907.2,465.8C909.2,472.1 911.7,479.6 914.0,486.4C916.3,493.3 918.6,500.2 920.9,507.1C923.2,514.0 925.5,520.3 927.8,527.7C930.1,535.2 932.4,544.3 934.7,551.8C937.0,559.3 939.3,565.6 941.6,572.4C943.9,579.3 947.0,589.2 948.4,593.1C949.8,597.0 947.9,593.1 950.0,595.8C952.1,598.5 958.2,605.5 961.0,609.0C963.8,612.5 965.2,614.8 967.0,617.0C968.8,619.2 970.3,622.7 972.0,622.2C973.7,621.7 975.2,617.7 977.0,614.0C978.8,610.3 980.2,606.9 983.0,600.2C985.8,593.5 990.3,582.9 994.0,573.7C997.7,564.5 1001.3,554.3 1005.0,545.1C1008.7,535.9 1013.5,524.4 1016.0,518.7C1018.5,513.0 1018.6,514.5 1020.0,511.0C1021.4,507.5 1023.0,502.1 1024.1,497.8C1025.2,493.5 1025.6,489.5 1026.6,485.4C1027.6,481.3 1028.9,475.8 1029.9,473.0C1030.9,470.2 1031.3,470.3 1032.4,468.9C1033.5,467.5 1035.0,466.2 1036.5,464.8C1038.0,463.4 1039.7,462.2 1041.5,460.6C1043.3,459.0 1045.6,456.4 1047.3,454.9C1049.0,453.4 1050.0,452.4 1051.4,451.6C1052.8,450.8 1054.1,450.6 1055.5,449.9C1056.9,449.2 1058.4,448.5 1059.6,447.4C1060.8,446.3 1062.1,444.7 1062.9,443.3C1063.8,441.9 1063.2,442.6 1064.7,439.1C1066.2,435.7 1069.3,428.6 1071.6,422.6C1073.9,416.6 1076.4,408.8 1078.4,403.3C1080.5,397.8 1082.3,392.9 1083.9,389.5C1085.5,386.1 1086.2,384.3 1088.1,382.7C1089.9,381.1 1093.0,381.9 1095.0,379.9C1097.0,377.9 1098.0,374.1 1100.0,370.7C1102.0,367.3 1104.6,363.1 1106.9,359.7C1109.2,356.2 1111.7,352.5 1113.8,350.0C1115.9,347.5 1117.5,345.5 1119.3,344.5C1121.1,343.5 1122.8,344.2 1124.8,343.9C1126.8,343.6 1129.5,343.2 1131.6,342.5C1133.6,341.8 1135.3,340.7 1137.1,339.7C1138.9,338.7 1140.8,336.2 1142.6,336.3C1144.4,336.4 1146.0,339.0 1148.1,340.4C1150.2,341.8 1153.2,342.9 1155.0,344.5C1156.8,346.1 1157.7,347.2 1159.1,350.0C1160.5,352.8 1161.9,357.3 1163.3,361.0C1164.7,364.7 1166.0,367.9 1167.4,372.0C1168.8,376.1 1170.1,381.2 1171.5,385.8C1172.9,390.4 1174.3,395.0 1175.7,399.6C1177.1,404.2 1178.4,408.7 1179.8,413.3C1181.2,417.9 1182.6,422.3 1183.9,427.1C1185.2,431.9 1186.3,437.0 1187.5,442.0C1188.7,447.0 1190.0,452.6 1191.0,457.0C1192.0,461.4 1192.7,464.0 1193.6,468.1C1194.5,472.2 1195.5,477.3 1196.4,481.9C1197.3,486.5 1198.4,492.7 1199.1,495.7C1199.8,498.7 1199.1,494.9 1200.8,499.7C1202.5,504.5 1205.9,517.3 1209.0,524.5C1212.1,531.7 1216.0,537.6 1219.4,543.1C1222.9,548.6 1226.3,553.0 1229.7,557.5C1233.1,562.0 1236.6,566.5 1240.0,569.9C1243.4,573.3 1246.9,576.0 1250.3,578.1C1253.7,580.2 1257.5,582.3 1260.6,582.3C1263.7,582.3 1266.1,579.5 1268.9,578.1C1271.7,576.7 1274.5,575.4 1277.2,574.0C1280.0,572.6 1282.3,572.3 1285.4,569.9C1288.5,567.5 1292.2,563.7 1295.7,559.6C1299.2,555.5 1302.6,549.9 1306.1,545.1C1309.5,540.3 1313.0,534.1 1316.4,530.7C1319.8,527.3 1323.3,527.2 1326.7,524.5C1330.1,521.8 1334.3,517.0 1337.0,514.2C1339.7,511.5 1341.5,509.5 1343.0,508.0C1344.5,506.5 1345.5,505.5 1346.0,505.0" fill="none" stroke="#ff7f0e" stroke-width="4.8" stroke-linejoin="round" stroke-linecap="square"/>
</g>
<rect x="173.4" y="230.4" width="1168.7" height="492.0" fill="none" stroke="#000" stroke-width="2.6" stroke-linejoin="miter"/>
<path d="M173.4,722.4v11.5M369.6,722.4v11.5M565.8,722.4v11.5M762.0,722.4v11.5M958.2,722.4v11.5M1154.4,722.4v11.5M173.4,276.2h-11.5M173.4,372.4h-11.5M173.4,468.6h-11.5M173.4,564.8h-11.5M173.4,661.0h-11.5" stroke="#000" stroke-width="2.6" fill="none"/>
<g class="tl"><text x="173.4" y="765.4" text-anchor="middle">0.0</text><text x="369.6" y="765.4" text-anchor="middle">0.5</text><text x="565.8" y="765.4" text-anchor="middle">1.0</text><text x="762.0" y="765.4" text-anchor="middle">1.5</text><text x="958.2" y="765.4" text-anchor="middle">2.0</text><text x="1154.4" y="765.4" text-anchor="middle">2.5</text><text x="151.6" y="286.2" text-anchor="end">1.0</text><text x="151.6" y="382.4" text-anchor="end">0.5</text><text x="151.6" y="478.6" text-anchor="end">0.0</text><text x="151.6" y="574.8" text-anchor="end">-0.5</text><text x="151.6" y="671.0" text-anchor="end">-1.0</text></g>
<g class="ttl"><text class="mi" x="728.0" y="210.6">α</text><text class="ms" x="745.6" y="214.9">0</text><text class="mr" x="757.6" y="209.1">(</text><text class="mi" x="767.6" y="210.6">t</text><text class="mr" x="779.6" y="209.1">)</text></g>
<clipPath id="cb"><rect x="173.4" y="868.6" width="1168.7" height="492.7"/></clipPath>
<g clip-path="url(#cb)">
<path d="M173.0,1212.4C173.6,1216.5 174.7,1231.9 176.4,1236.5C178.2,1241.1 180.5,1239.4 183.3,1240.0C186.2,1240.5 190.9,1240.5 193.6,1240.0C196.4,1239.4 197.7,1239.8 199.8,1236.5C201.9,1233.2 203.6,1225.2 206.0,1220.0C208.4,1214.8 211.6,1210.7 214.3,1205.5C217.1,1200.3 220.1,1194.8 222.5,1189.0C224.9,1183.2 226.3,1176.6 228.7,1170.4C231.1,1164.2 234.2,1158.8 237.0,1151.9C239.8,1145.0 242.8,1136.4 245.2,1129.2C247.6,1122.0 249.7,1115.4 251.4,1108.5C253.1,1101.6 254.1,1095.5 255.5,1087.9C256.9,1080.4 258.3,1069.4 259.7,1063.2C261.1,1057.0 262.4,1052.9 263.8,1050.8C265.2,1048.7 266.5,1048.0 267.9,1050.8C269.3,1053.5 270.6,1060.4 272.0,1067.3C273.4,1074.2 274.8,1082.4 276.2,1092.0C277.6,1101.6 278.9,1114.0 280.3,1125.0C281.7,1136.0 283.0,1147.8 284.4,1158.1C285.8,1168.4 287.1,1178.0 288.5,1186.9C289.9,1195.8 291.3,1204.9 292.7,1211.7C294.1,1218.5 295.8,1225.8 297.0,1228.0C298.2,1230.2 299.0,1227.0 300.0,1225.0C301.0,1223.0 301.8,1221.3 303.1,1216.0C304.4,1210.7 306.1,1200.8 307.6,1193.3C309.1,1185.8 310.7,1179.0 312.2,1170.7C313.7,1162.4 315.2,1152.3 316.7,1143.5C318.2,1134.7 320.1,1125.0 321.2,1117.8C322.3,1110.5 322.7,1106.8 323.5,1100.0C324.3,1093.2 324.6,1090.7 326.0,1076.7C327.4,1062.7 330.2,1032.7 332.0,1016.0C333.8,999.4 334.6,989.4 336.6,976.8C338.6,964.2 341.6,950.6 344.1,940.5C346.6,930.4 349.7,922.2 351.7,916.3C353.7,910.4 354.5,908.0 356.0,905.0C357.5,902.0 359.1,900.4 360.8,898.2C362.5,896.1 364.4,892.1 366.2,892.1C368.0,892.1 369.8,894.2 371.4,898.2C373.0,902.2 374.4,909.2 375.9,916.3C377.4,923.3 378.9,931.4 380.4,940.5C381.9,949.6 383.5,959.7 385.0,970.8C386.5,981.9 388.0,993.9 389.5,1007.0C391.0,1020.1 392.8,1038.7 394.0,1049.4C395.2,1060.1 395.6,1063.1 396.6,1071.4C397.6,1079.7 398.9,1090.3 400.0,1098.9C401.2,1107.5 402.3,1115.0 403.5,1123.0C404.6,1131.0 405.8,1138.5 406.9,1147.1C408.1,1155.7 409.2,1166.6 410.4,1174.6C411.5,1182.6 412.1,1188.9 413.8,1195.2C415.5,1201.5 418.4,1207.9 420.7,1212.4C423.0,1217.0 425.3,1222.2 427.6,1222.8C429.9,1223.3 432.4,1219.9 434.4,1215.9C436.4,1211.9 437.9,1206.7 439.6,1198.7C441.3,1190.7 443.3,1178.6 444.8,1167.7C446.2,1156.8 447.1,1146.5 448.2,1133.3C449.3,1120.1 450.5,1101.2 451.6,1088.6C452.8,1076.0 453.9,1065.7 455.1,1057.6C456.2,1049.6 457.1,1043.6 458.5,1040.4C460.0,1037.3 462.6,1039.1 463.7,1038.7C464.8,1038.4 463.2,1033.2 465.2,1038.4C467.2,1043.6 472.6,1058.5 475.7,1069.8C478.8,1081.1 480.9,1094.2 483.5,1106.4C486.1,1118.6 488.3,1130.4 491.4,1143.0C494.4,1155.6 498.3,1170.4 501.8,1182.2C505.3,1194.0 508.8,1203.6 512.3,1213.6C515.8,1223.6 519.2,1234.6 522.7,1242.4C526.2,1250.2 530.6,1257.2 533.2,1260.7C535.8,1264.2 536.6,1263.8 538.4,1263.3C540.1,1262.8 542.1,1259.9 543.7,1258.0C545.3,1256.1 546.3,1255.9 548.0,1252.0C549.7,1248.1 551.8,1244.0 554.1,1234.5C556.4,1225.0 559.4,1210.5 562.0,1195.3C564.6,1180.0 567.4,1159.6 569.8,1143.0C572.2,1126.4 574.3,1109.9 576.3,1095.9C578.3,1082.0 579.6,1070.2 581.6,1059.3C583.6,1048.4 585.7,1037.1 588.1,1030.6C590.5,1024.1 593.7,1022.1 595.9,1020.1C598.1,1018.1 599.3,1017.1 601.2,1018.8C603.1,1020.5 605.0,1025.4 607.2,1030.1C609.3,1034.9 611.7,1042.2 614.0,1047.3C616.3,1052.5 618.3,1058.5 620.9,1061.1C623.5,1063.7 626.7,1063.1 629.5,1062.8C632.4,1062.5 635.5,1061.1 638.1,1059.4C640.7,1057.6 642.7,1055.9 645.0,1052.5C647.3,1049.0 649.3,1041.9 651.9,1038.7C654.5,1035.6 657.6,1034.4 660.5,1033.6C663.3,1032.7 666.2,1032.4 669.1,1033.6C671.9,1034.7 674.8,1037.3 677.7,1040.4C680.5,1043.6 683.1,1049.0 686.3,1052.5C689.4,1055.9 693.2,1059.6 696.6,1061.1C700.0,1062.5 704.1,1062.8 706.9,1061.1C709.8,1059.4 711.5,1055.3 713.8,1050.8C716.1,1046.2 718.4,1039.0 720.7,1033.6C723.0,1028.1 725.3,1021.4 727.6,1018.1C729.9,1014.8 732.1,1012.7 734.4,1013.6C736.7,1014.5 739.0,1018.2 741.3,1023.2C743.6,1028.3 746.2,1034.7 748.2,1043.9C750.2,1053.1 751.6,1064.5 753.4,1078.3C755.1,1092.0 756.8,1111.5 758.5,1126.4C760.2,1141.3 762.0,1155.7 763.7,1167.7C765.4,1179.8 767.3,1191.2 768.8,1198.7C770.4,1206.1 771.1,1206.1 773.0,1212.4C774.8,1218.7 777.6,1229.1 779.9,1236.5C782.2,1244.0 784.5,1252.0 786.8,1257.2C789.1,1262.3 791.3,1266.3 793.6,1267.5C795.9,1268.6 798.2,1266.3 800.5,1264.0C802.8,1261.7 805.1,1258.3 807.4,1253.7C809.7,1249.1 812.0,1242.8 814.3,1236.5C816.6,1230.2 818.9,1223.3 821.2,1215.9C823.5,1208.4 825.7,1199.8 828.0,1191.8C830.3,1183.8 832.6,1175.7 834.9,1167.7C837.2,1159.7 839.5,1152.8 841.8,1143.6C844.1,1134.5 846.4,1122.4 848.7,1112.7C851.0,1102.9 853.3,1094.3 855.6,1085.2C857.9,1076.0 860.1,1065.7 862.4,1057.6C864.7,1049.6 867.3,1041.6 869.3,1037.0C871.3,1032.4 872.8,1029.0 874.5,1030.1C876.2,1031.3 878.2,1037.0 879.6,1043.9C881.1,1050.8 881.9,1061.1 883.1,1071.4C884.2,1081.7 885.4,1094.3 886.5,1105.8C887.7,1117.3 888.8,1128.7 890.0,1140.2C891.1,1151.7 892.3,1164.3 893.4,1174.6C894.5,1184.9 895.4,1195.2 896.8,1202.1C898.3,1209.0 900.3,1213.0 902.0,1215.9C903.7,1218.7 905.4,1220.5 907.2,1219.3C908.9,1218.2 910.6,1214.2 912.3,1209.0C914.0,1203.8 915.8,1196.4 917.5,1188.4C919.2,1180.3 920.9,1170.6 922.6,1160.8C924.4,1151.1 926.1,1141.3 927.8,1129.9C929.5,1118.4 931.2,1104.7 933.0,1092.0C934.7,1079.4 936.4,1067.4 938.1,1054.2C939.8,1041.0 941.6,1026.1 943.3,1012.9C945.0,999.7 946.7,986.5 948.4,975.1C950.2,963.6 951.6,953.3 953.6,944.1C955.6,934.9 958.2,926.6 960.5,920.0C962.8,913.4 965.1,908.0 967.4,904.6C969.7,901.1 971.9,899.1 974.2,899.4C976.5,899.7 979.1,902.3 981.1,906.3C983.1,910.3 984.6,916.0 986.3,923.5C988.0,930.9 989.7,940.1 991.4,951.0C993.2,961.9 994.9,976.2 996.6,988.8C998.3,1001.5 1000.0,1014.1 1001.8,1026.7C1003.5,1039.3 1005.2,1051.3 1006.9,1064.5C1008.6,1077.7 1010.4,1092.0 1012.1,1105.8C1013.8,1119.6 1015.5,1134.5 1017.2,1147.1C1019.0,1159.7 1020.4,1171.2 1022.4,1181.5C1024.4,1191.8 1027.0,1202.7 1029.3,1209.0C1031.6,1215.3 1034.2,1218.7 1036.2,1219.3C1038.2,1219.9 1039.6,1217.0 1041.3,1212.4C1043.0,1207.9 1044.8,1201.0 1046.5,1191.8C1048.2,1182.6 1049.9,1170.6 1051.6,1157.4C1053.4,1144.2 1055.1,1125.9 1056.8,1112.7C1058.5,1099.5 1060.2,1085.7 1062.0,1078.3C1063.7,1070.8 1065.2,1068.5 1067.1,1068.0C1069.0,1067.4 1071.2,1069.1 1073.5,1074.8C1075.7,1080.6 1078.5,1093.8 1080.8,1102.4C1083.2,1111.0 1085.4,1118.4 1087.7,1126.4C1090.0,1134.5 1092.3,1142.5 1094.6,1150.5C1096.9,1158.5 1099.2,1167.1 1101.5,1174.6C1103.8,1182.1 1106.1,1189.5 1108.4,1195.2C1110.7,1201.0 1112.4,1205.0 1115.2,1209.0C1118.1,1213.0 1122.1,1216.5 1125.6,1219.3C1129.0,1222.2 1133.0,1223.9 1135.9,1226.2C1138.7,1228.5 1140.5,1230.8 1142.8,1233.1C1145.1,1235.4 1147.3,1240.0 1149.6,1240.0C1151.9,1240.0 1154.2,1235.9 1156.5,1233.1C1158.8,1230.2 1161.1,1226.8 1163.4,1222.8C1165.7,1218.7 1168.0,1215.9 1170.3,1209.0C1172.6,1202.1 1175.2,1191.2 1177.2,1181.5C1179.2,1171.7 1180.6,1162.0 1182.3,1150.5C1184.0,1139.1 1185.8,1125.9 1187.5,1112.7C1189.2,1099.5 1190.9,1083.4 1192.6,1071.4C1194.4,1059.4 1195.8,1048.5 1197.8,1040.4C1199.8,1032.4 1202.1,1027.8 1204.7,1023.2C1207.3,1018.7 1210.4,1015.2 1213.3,1012.9C1216.1,1010.6 1219.3,1008.9 1221.9,1009.5C1224.5,1010.1 1226.5,1013.5 1228.8,1016.4C1231.1,1019.2 1233.3,1025.2 1235.6,1026.7C1237.9,1028.1 1240.2,1025.5 1242.5,1025.0C1244.8,1024.4 1246.5,1023.8 1249.4,1023.2C1252.3,1022.7 1256.9,1022.4 1259.7,1021.5C1262.6,1020.7 1264.3,1016.1 1266.6,1018.1C1268.9,1020.1 1271.2,1029.3 1273.5,1033.6C1275.8,1037.9 1278.1,1039.9 1280.4,1043.9C1282.7,1047.9 1284.9,1052.5 1287.2,1057.6C1289.5,1062.8 1291.8,1069.7 1294.1,1074.8C1296.4,1080.0 1298.7,1084.6 1301.0,1088.6C1303.3,1092.6 1305.9,1097.8 1307.9,1098.9C1309.9,1100.1 1311.3,1098.3 1313.0,1095.5C1314.8,1092.6 1316.5,1087.5 1318.2,1081.7C1319.9,1076.0 1321.6,1068.5 1323.4,1061.1C1325.1,1053.6 1326.8,1043.9 1328.5,1037.0C1330.2,1030.1 1332.0,1025.0 1333.7,1019.8C1335.4,1014.6 1337.6,1008.9 1338.8,1006.0C1340.0,1003.2 1340.6,1003.2 1340.9,1002.6L1340.9,1071.4C1340.0,1072.5 1337.5,1073.1 1335.4,1078.3C1333.3,1083.4 1330.5,1093.8 1328.5,1102.4C1326.5,1111.0 1325.1,1121.3 1323.4,1129.9C1321.6,1138.5 1319.9,1148.2 1318.2,1154.0C1316.5,1159.7 1314.8,1163.1 1313.0,1164.3C1311.3,1165.4 1310.2,1163.7 1307.9,1160.8C1305.6,1158.0 1302.1,1152.8 1299.3,1147.1C1296.4,1141.3 1293.3,1132.7 1290.7,1126.4C1288.1,1120.1 1286.1,1114.4 1283.8,1109.2C1281.5,1104.1 1279.5,1099.5 1276.9,1095.5C1274.3,1091.5 1271.2,1086.3 1268.3,1085.2C1265.5,1084.0 1262.9,1087.5 1259.7,1088.6C1256.6,1089.7 1252.8,1090.9 1249.4,1092.0C1246.0,1093.2 1241.9,1096.3 1239.1,1095.5C1236.2,1094.6 1234.5,1089.7 1232.2,1086.9C1229.9,1084.0 1227.9,1080.0 1225.3,1078.3C1222.7,1076.6 1219.6,1075.7 1216.7,1076.6C1213.9,1077.4 1211.0,1080.9 1208.1,1083.4C1205.3,1086.0 1202.1,1088.3 1199.5,1092.0C1196.9,1095.8 1194.6,1097.8 1192.6,1105.8C1190.6,1113.8 1189.2,1127.6 1187.5,1140.2C1185.8,1152.8 1184.0,1168.3 1182.3,1181.5C1180.6,1194.7 1179.2,1207.3 1177.2,1219.3C1175.2,1231.4 1172.6,1242.8 1170.3,1253.7C1168.0,1264.6 1165.7,1276.7 1163.4,1284.7C1161.1,1292.7 1158.8,1297.9 1156.5,1301.9C1154.2,1305.9 1151.9,1310.5 1149.6,1308.8C1147.3,1307.0 1145.6,1296.7 1142.8,1291.6C1139.9,1286.4 1135.9,1281.8 1132.4,1277.8C1129.0,1273.8 1125.0,1271.5 1122.1,1267.5C1119.3,1263.5 1117.5,1258.9 1115.2,1253.7C1112.9,1248.6 1110.7,1242.8 1108.4,1236.5C1106.1,1230.2 1103.8,1222.8 1101.5,1215.9C1099.2,1209.0 1096.9,1202.1 1094.6,1195.2C1092.3,1188.4 1090.0,1180.9 1087.7,1174.6C1085.4,1168.3 1083.2,1163.7 1080.8,1157.4C1078.5,1151.1 1075.7,1140.8 1073.5,1136.8C1071.2,1132.7 1069.0,1133.3 1067.1,1133.3C1065.2,1133.3 1063.7,1133.9 1062.0,1136.8C1060.2,1139.6 1058.5,1141.3 1056.8,1150.5C1055.1,1159.7 1053.4,1176.3 1051.6,1191.8C1049.9,1207.3 1048.2,1229.1 1046.5,1243.4C1044.8,1257.7 1043.0,1270.3 1041.3,1277.8C1039.6,1285.2 1038.2,1291.0 1036.2,1288.1C1034.2,1285.2 1031.6,1270.9 1029.3,1260.6C1027.0,1250.3 1024.4,1238.2 1022.4,1226.2C1020.4,1214.2 1019.0,1201.0 1017.2,1188.4C1015.5,1175.7 1013.8,1163.1 1012.1,1150.5C1010.4,1137.9 1008.6,1125.3 1006.9,1112.7C1005.2,1100.1 1003.5,1087.5 1001.8,1074.8C1000.0,1062.2 998.6,1049.0 996.6,1037.0C994.6,1025.0 992.0,1012.3 989.7,1002.6C987.4,992.9 985.1,984.0 982.8,978.5C980.5,973.1 978.3,971.4 976.0,969.9C973.7,968.5 971.7,968.5 969.1,969.9C966.5,971.4 963.3,973.6 960.5,978.5C957.6,983.4 954.5,991.1 951.9,999.2C949.3,1007.2 947.0,1015.8 945.0,1026.7C943.0,1037.6 941.6,1051.3 939.8,1064.5C938.1,1077.7 936.4,1092.6 934.7,1105.8C933.0,1119.0 931.2,1131.0 929.5,1143.6C927.8,1156.3 926.1,1168.9 924.4,1181.5C922.6,1194.1 920.9,1207.3 919.2,1219.3C917.5,1231.4 915.8,1243.4 914.0,1253.7C912.3,1264.0 910.6,1275.5 908.9,1281.2C907.2,1287.0 905.4,1291.6 903.7,1288.1C902.0,1284.7 900.3,1272.1 898.6,1260.6C896.8,1249.1 895.1,1233.7 893.4,1219.3C891.7,1205.0 890.0,1188.4 888.2,1174.6C886.5,1160.8 884.8,1148.2 883.1,1136.8C881.4,1125.3 879.6,1112.7 877.9,1105.8C876.2,1098.9 874.8,1096.1 872.8,1095.5C870.8,1094.9 868.2,1097.8 865.9,1102.4C863.6,1106.9 861.3,1115.0 859.0,1123.0C856.7,1131.0 854.4,1140.8 852.1,1150.5C849.8,1160.3 847.5,1171.7 845.2,1181.5C842.9,1191.2 840.7,1199.8 838.4,1209.0C836.1,1218.2 833.8,1227.3 831.5,1236.5C829.2,1245.7 826.9,1255.4 824.6,1264.0C822.3,1272.6 820.0,1280.1 817.7,1288.1C815.4,1296.1 813.1,1305.3 810.8,1312.2C808.5,1319.1 806.0,1325.1 804.0,1329.4C802.0,1333.7 800.5,1337.4 798.8,1338.0C797.1,1338.6 795.6,1337.7 793.6,1332.8C791.6,1328.0 789.1,1317.4 786.8,1308.8C784.5,1300.2 782.2,1289.0 779.9,1281.2C777.6,1273.5 774.8,1267.5 773.0,1262.3C771.1,1257.2 770.4,1256.9 768.8,1250.3C767.3,1243.7 765.4,1233.7 763.7,1222.8C762.0,1211.9 760.2,1197.5 758.5,1184.9C756.8,1172.3 755.1,1159.1 753.4,1147.1C751.6,1135.0 750.2,1122.4 748.2,1112.7C746.2,1102.9 743.6,1093.8 741.3,1088.6C739.0,1083.4 736.7,1081.7 734.4,1081.7C732.1,1081.7 730.1,1085.2 727.6,1088.6C725.0,1092.0 721.8,1097.2 719.0,1102.4C716.1,1107.5 713.2,1115.0 710.4,1119.6C707.5,1124.1 704.6,1128.7 701.8,1129.9C698.9,1131.0 696.0,1128.4 693.2,1126.4C690.3,1124.4 687.4,1121.0 684.6,1117.8C681.7,1114.7 678.8,1110.1 676.0,1107.5C673.1,1104.9 670.2,1102.6 667.4,1102.4C664.5,1102.1 661.6,1103.5 658.8,1105.8C655.9,1108.1 652.7,1113.3 650.2,1116.1C647.6,1119.0 645.9,1120.7 643.3,1123.0C640.7,1125.3 637.3,1129.3 634.7,1129.9C632.1,1130.5 630.7,1128.7 627.8,1126.4C624.9,1124.1 620.9,1120.7 617.5,1116.1C614.0,1111.5 609.9,1105.1 607.2,1098.9C604.4,1092.7 603.3,1082.6 601.2,1079.0C599.1,1075.4 596.8,1075.6 594.6,1077.6C592.4,1079.5 590.1,1083.3 588.1,1090.7C586.1,1098.1 584.6,1111.2 582.9,1122.1C581.1,1133.0 579.4,1143.9 577.6,1156.1C575.9,1168.3 574.6,1180.0 572.4,1195.3C570.2,1210.5 567.2,1232.3 564.6,1247.6C562.0,1262.8 558.9,1278.1 556.7,1286.8C554.5,1295.5 553.2,1295.6 551.5,1300.0C549.8,1304.4 548.0,1308.2 546.3,1313.0C544.5,1317.8 542.5,1325.1 541.0,1328.6C539.5,1332.1 538.4,1334.3 537.1,1333.9C535.8,1333.5 534.7,1329.3 533.2,1326.0C531.7,1322.7 529.8,1318.3 528.0,1314.0C526.2,1309.7 524.5,1305.6 522.7,1299.9C521.0,1294.2 519.2,1286.5 517.5,1280.0C515.8,1273.5 514.3,1267.2 512.3,1260.7C510.3,1254.2 507.9,1247.5 505.7,1241.0C503.5,1234.5 501.4,1227.9 499.2,1221.4C497.0,1214.9 494.8,1208.5 492.6,1202.0C490.4,1195.5 488.3,1188.9 486.1,1182.2C483.9,1175.5 481.7,1168.5 479.5,1162.0C477.3,1155.5 475.3,1148.8 473.1,1143.0C470.9,1137.2 468.7,1132.2 466.5,1127.0C464.3,1121.8 461.9,1114.0 460.0,1111.6C458.1,1109.2 456.5,1109.6 455.1,1112.7C453.7,1115.7 452.8,1120.7 451.6,1129.9C450.5,1139.1 449.3,1154.5 448.2,1167.7C447.1,1180.9 445.9,1196.4 444.8,1209.0C443.6,1221.6 442.5,1231.9 441.3,1243.4C440.2,1254.9 439.3,1269.5 437.9,1277.8C436.4,1286.1 434.4,1292.7 432.7,1293.3C431.0,1293.8 429.6,1286.7 427.6,1281.2C425.6,1275.8 422.7,1269.8 420.7,1260.6C418.7,1251.4 417.2,1237.7 415.5,1226.2C413.8,1214.7 412.1,1204.4 410.4,1191.8C408.6,1179.2 406.9,1163.7 405.2,1150.5C403.5,1137.3 401.6,1121.4 400.0,1112.7C398.4,1103.9 397.1,1105.4 395.6,1097.9C394.1,1090.4 392.8,1078.7 391.0,1067.6C389.2,1056.5 387.0,1043.4 385.0,1031.3C383.0,1019.2 380.9,1005.1 378.9,995.0C376.9,984.9 375.2,975.8 372.9,970.8C370.6,965.8 367.8,964.7 365.3,964.7C362.8,964.7 360.0,967.3 357.7,970.8C355.4,974.3 353.7,978.3 351.7,985.9C349.7,993.5 347.9,1003.6 345.6,1016.2C343.3,1028.8 340.0,1049.2 338.1,1061.5C336.2,1073.8 335.3,1080.6 334.0,1090.0C332.7,1099.4 331.8,1109.3 330.5,1118.0C329.2,1126.7 327.4,1134.2 326.0,1142.0C324.6,1149.8 323.3,1157.0 322.0,1165.0C320.7,1173.0 319.3,1182.1 318.0,1190.0C316.7,1197.9 315.6,1203.5 314.0,1212.4C312.5,1221.3 310.6,1233.7 308.9,1243.4C307.2,1253.1 305.2,1264.0 303.7,1270.9C302.3,1277.8 301.4,1281.2 300.3,1284.7C299.1,1288.1 298.0,1292.7 296.8,1291.6C295.7,1290.4 295.0,1285.1 293.4,1277.8C291.8,1270.5 289.1,1256.8 287.5,1248.0C285.9,1239.2 284.8,1233.2 283.5,1225.0C282.2,1216.8 280.9,1208.8 279.5,1199.0C278.1,1189.2 276.5,1176.3 275.0,1166.0C273.5,1155.7 272.2,1145.4 270.5,1137.0C268.8,1128.6 266.3,1119.5 264.8,1115.5C263.3,1111.5 262.9,1112.1 261.7,1112.7C260.5,1113.3 259.3,1113.4 257.6,1118.9C255.9,1124.4 253.8,1135.7 251.4,1145.7C249.0,1155.7 245.8,1169.1 243.1,1178.7C240.3,1188.3 237.7,1195.2 234.9,1203.4C232.2,1211.7 230.0,1218.8 226.6,1228.2C223.2,1237.6 217.8,1250.0 214.3,1260.0C210.8,1270.0 208.3,1280.6 205.7,1288.1C203.1,1295.7 201.4,1301.9 198.8,1305.3C196.2,1308.8 193.4,1308.2 190.2,1308.8C187.0,1309.3 182.7,1308.2 179.9,1308.8C177.0,1309.3 174.1,1311.6 173.0,1312.2Z" fill="#94cf94" stroke="none"/>
<g fill="#dc1f28"><circle cx="177.1" cy="1288.1" r="3.8"/><circle cx="185.0" cy="1272.6" r="3.8"/><circle cx="188.5" cy="1283.0" r="3.8"/><circle cx="193.0" cy="1265.8" r="3.8"/><circle cx="197.1" cy="1289.8" r="3.8"/><circle cx="201.2" cy="1288.8" r="3.8"/><circle cx="205.7" cy="1287.4" r="3.8"/><circle cx="207.4" cy="1244.4" r="3.8"/><circle cx="224.6" cy="1234.1" r="3.8"/><circle cx="227.4" cy="1184.9" r="3.8"/><circle cx="253.8" cy="1128.2" r="3.8"/><circle cx="259.0" cy="1062.8" r="3.8"/><circle cx="263.1" cy="1055.9" r="3.8"/><circle cx="266.6" cy="1049.0" r="3.8"/><circle cx="291.0" cy="1294.3" r="3.8"/><circle cx="295.1" cy="1274.4" r="3.8"/><circle cx="299.6" cy="1292.2" r="3.8"/><circle cx="307.2" cy="1270.9" r="3.8"/><circle cx="311.3" cy="1254.7" r="3.8"/><circle cx="327.8" cy="1135.0" r="3.8"/><circle cx="331.9" cy="1032.5" r="3.8"/><circle cx="350.2" cy="963.0" r="3.8"/><circle cx="354.6" cy="962.4" r="3.8"/><circle cx="365.0" cy="916.6" r="3.8"/><circle cx="369.1" cy="907.0" r="3.8"/><circle cx="373.2" cy="921.1" r="3.8"/><circle cx="385.2" cy="957.2" r="3.8"/><circle cx="379.4" cy="973.4" r="3.8"/><circle cx="390.4" cy="1012.9" r="3.8"/><circle cx="394.9" cy="1043.9" r="3.8"/><circle cx="397.3" cy="1078.3" r="3.8"/><circle cx="400.0" cy="1107.5" r="3.8"/><circle cx="402.8" cy="1140.2" r="3.8"/><circle cx="406.9" cy="1174.6" r="3.8"/><circle cx="411.0" cy="1198.7" r="3.8"/><circle cx="417.9" cy="1250.3" r="3.8"/><circle cx="422.4" cy="1272.6" r="3.8"/><circle cx="431.0" cy="1294.3" r="3.8"/><circle cx="439.6" cy="1289.8" r="3.8"/><circle cx="436.2" cy="1269.2" r="3.8"/><circle cx="446.5" cy="1140.2" r="3.8"/><circle cx="455.1" cy="1062.8" r="3.8"/><circle cx="464.7" cy="1055.9" r="3.8"/><circle cx="461.3" cy="1040.4" r="3.8"/><circle cx="453.4" cy="1121.3" r="3.8"/><circle cx="475.8" cy="1069.7" r="3.8"/><circle cx="480.6" cy="1099.6" r="3.8"/><circle cx="484.0" cy="1116.1" r="3.8"/><circle cx="487.4" cy="1140.2" r="3.8"/><circle cx="489.5" cy="1179.8" r="3.8"/><circle cx="494.3" cy="1190.1" r="3.8"/><circle cx="498.8" cy="1195.9" r="3.8"/><circle cx="501.2" cy="1227.9" r="3.8"/><circle cx="506.0" cy="1225.5" r="3.8"/><circle cx="509.1" cy="1252.0" r="3.8"/><circle cx="513.6" cy="1267.5" r="3.8"/><circle cx="524.6" cy="1304.6" r="3.8"/><circle cx="528.0" cy="1296.7" r="3.8"/><circle cx="534.2" cy="1324.9" r="3.8"/><circle cx="537.7" cy="1308.8" r="3.8"/><circle cx="541.8" cy="1309.8" r="3.8"/><circle cx="546.6" cy="1312.9" r="3.8"/><circle cx="553.5" cy="1300.8" r="3.8"/><circle cx="560.7" cy="1248.6" r="3.8"/><circle cx="564.2" cy="1226.2" r="3.8"/><circle cx="567.6" cy="1179.8" r="3.8"/><circle cx="572.8" cy="1167.7" r="3.8"/><circle cx="577.9" cy="1145.4" r="3.8"/><circle cx="582.4" cy="1118.9" r="3.8"/><circle cx="583.8" cy="1070.7" r="3.8"/><circle cx="589.3" cy="1071.4" r="3.8"/><circle cx="592.7" cy="1023.9" r="3.8"/><circle cx="596.8" cy="1055.9" r="3.8"/><circle cx="601.0" cy="1012.9" r="3.8"/><circle cx="605.4" cy="1031.8" r="3.8"/><circle cx="610.6" cy="1043.9" r="3.8"/><circle cx="617.5" cy="1069.7" r="3.8"/><circle cx="622.6" cy="1085.2" r="3.8"/><circle cx="626.1" cy="1090.3" r="3.8"/><circle cx="634.7" cy="1102.4" r="3.8"/><circle cx="636.4" cy="1105.8" r="3.8"/><circle cx="642.6" cy="1085.2" r="3.8"/><circle cx="647.8" cy="1100.6" r="3.8"/><circle cx="651.9" cy="1090.3" r="3.8"/><circle cx="655.3" cy="1061.1" r="3.8"/><circle cx="660.5" cy="1062.8" r="3.8"/><circle cx="669.1" cy="1059.4" r="3.8"/><circle cx="670.8" cy="1057.6" r="3.8"/><circle cx="679.4" cy="1078.3" r="3.8"/><circle cx="684.6" cy="1074.8" r="3.8"/><circle cx="686.3" cy="1093.8" r="3.8"/><circle cx="691.4" cy="1085.2" r="3.8"/><circle cx="694.9" cy="1116.1" r="3.8"/><circle cx="699.4" cy="1093.8" r="3.8"/><circle cx="706.2" cy="1095.5" r="3.8"/><circle cx="710.4" cy="1093.8" r="3.8"/><circle cx="713.8" cy="1076.6" r="3.8"/><circle cx="717.9" cy="1071.4" r="3.8"/><circle cx="722.4" cy="1084.1" r="3.8"/><circle cx="726.9" cy="1062.8" r="3.8"/><circle cx="731.0" cy="1043.9" r="3.8"/><circle cx="733.7" cy="1026.0" r="3.8"/><circle cx="737.9" cy="1023.2" r="3.8"/><circle cx="744.8" cy="1045.6" r="3.8"/><circle cx="762.6" cy="1195.9" r="3.8"/><circle cx="768.1" cy="1222.8" r="3.8"/><circle cx="775.8" cy="1274.4" r="3.8"/><circle cx="782.6" cy="1256.1" r="3.8"/><circle cx="773.0" cy="1228.9" r="3.8"/><circle cx="791.9" cy="1325.3" r="3.8"/><circle cx="797.1" cy="1312.2" r="3.8"/><circle cx="800.5" cy="1324.2" r="3.8"/><circle cx="807.4" cy="1279.5" r="3.8"/><circle cx="816.0" cy="1272.6" r="3.8"/><circle cx="821.2" cy="1277.8" r="3.8"/><circle cx="825.3" cy="1256.1" r="3.8"/><circle cx="828.0" cy="1218.6" r="3.8"/><circle cx="833.2" cy="1227.9" r="3.8"/><circle cx="834.9" cy="1184.9" r="3.8"/><circle cx="845.2" cy="1176.3" r="3.8"/><circle cx="849.4" cy="1122.3" r="3.8"/><circle cx="853.8" cy="1104.1" r="3.8"/><circle cx="860.7" cy="1106.5" r="3.8"/><circle cx="868.6" cy="1052.5" r="3.8"/><circle cx="875.5" cy="1027.7" r="3.8"/><circle cx="880.3" cy="1047.3" r="3.8"/><circle cx="890.0" cy="1136.8" r="3.8"/><circle cx="891.7" cy="1195.2" r="3.8"/><circle cx="898.6" cy="1246.8" r="3.8"/><circle cx="902.0" cy="1269.2" r="3.8"/><circle cx="905.4" cy="1281.2" r="3.8"/><circle cx="914.7" cy="1265.8" r="3.8"/><circle cx="924.4" cy="1197.0" r="3.8"/><circle cx="931.9" cy="1160.1" r="3.8"/><circle cx="935.4" cy="1128.2" r="3.8"/><circle cx="936.7" cy="1074.8" r="3.8"/><circle cx="943.6" cy="1015.3" r="3.8"/><circle cx="945.0" cy="1054.2" r="3.8"/><circle cx="951.9" cy="968.2" r="3.8"/><circle cx="957.0" cy="940.0" r="3.8"/><circle cx="965.6" cy="928.6" r="3.8"/><circle cx="972.5" cy="928.6" r="3.8"/><circle cx="981.1" cy="930.4" r="3.8"/><circle cx="989.0" cy="943.4" r="3.8"/><circle cx="998.3" cy="1009.5" r="3.8"/><circle cx="1001.8" cy="1043.9" r="3.8"/><circle cx="1006.2" cy="1060.0" r="3.8"/><circle cx="1009.7" cy="1109.2" r="3.8"/><circle cx="1013.8" cy="1134.3" r="3.8"/><circle cx="1014.8" cy="1191.8" r="3.8"/><circle cx="1029.3" cy="1255.4" r="3.8"/><circle cx="1034.4" cy="1262.3" r="3.8"/><circle cx="1039.6" cy="1276.1" r="3.8"/><circle cx="1044.8" cy="1257.2" r="3.8"/><circle cx="1048.2" cy="1257.2" r="3.8"/><circle cx="1036.2" cy="1293.3" r="3.8"/><circle cx="1053.4" cy="1214.2" r="3.8"/><circle cx="1058.5" cy="1097.2" r="3.8"/><circle cx="1063.7" cy="1090.3" r="3.8"/><circle cx="1068.1" cy="1071.4" r="3.8"/><circle cx="1074.6" cy="1098.9" r="3.8"/><circle cx="1086.0" cy="1143.6" r="3.8"/><circle cx="1091.2" cy="1153.3" r="3.8"/><circle cx="1094.6" cy="1167.0" r="3.8"/><circle cx="1098.7" cy="1166.7" r="3.8"/><circle cx="1100.8" cy="1208.0" r="3.8"/><circle cx="1107.0" cy="1198.0" r="3.8"/><circle cx="1109.0" cy="1222.8" r="3.8"/><circle cx="1114.6" cy="1229.6" r="3.8"/><circle cx="1119.4" cy="1230.7" r="3.8"/><circle cx="1121.4" cy="1258.9" r="3.8"/><circle cx="1135.2" cy="1262.3" r="3.8"/><circle cx="1142.1" cy="1254.1" r="3.8"/><circle cx="1145.5" cy="1289.8" r="3.8"/><circle cx="1151.4" cy="1289.1" r="3.8"/><circle cx="1155.1" cy="1286.4" r="3.8"/><circle cx="1159.3" cy="1283.0" r="3.8"/><circle cx="1162.0" cy="1275.4" r="3.8"/><circle cx="1169.2" cy="1226.2" r="3.8"/><circle cx="1174.4" cy="1229.6" r="3.8"/><circle cx="1179.2" cy="1210.7" r="3.8"/><circle cx="1186.8" cy="1159.1" r="3.8"/><circle cx="1187.5" cy="1121.3" r="3.8"/><circle cx="1190.9" cy="1104.1" r="3.8"/><circle cx="1197.1" cy="1102.4" r="3.8"/><circle cx="1200.6" cy="1052.5" r="3.8"/><circle cx="1205.4" cy="1036.3" r="3.8"/><circle cx="1216.7" cy="1036.0" r="3.8"/><circle cx="1223.6" cy="1036.0" r="3.8"/><circle cx="1228.1" cy="1028.4" r="3.8"/><circle cx="1235.6" cy="1066.9" r="3.8"/><circle cx="1239.8" cy="1074.2" r="3.8"/><circle cx="1244.2" cy="1068.0" r="3.8"/><circle cx="1252.2" cy="1040.4" r="3.8"/><circle cx="1255.6" cy="1063.8" r="3.8"/><circle cx="1267.6" cy="1044.9" r="3.8"/><circle cx="1270.7" cy="1033.2" r="3.8"/><circle cx="1274.9" cy="1069.7" r="3.8"/><circle cx="1279.0" cy="1074.8" r="3.8"/><circle cx="1283.8" cy="1065.2" r="3.8"/><circle cx="1290.7" cy="1076.6" r="3.8"/><circle cx="1296.9" cy="1102.4" r="3.8"/><circle cx="1297.6" cy="1124.7" r="3.8"/><circle cx="1312.3" cy="1147.1" r="3.8"/><circle cx="1317.2" cy="1136.1" r="3.8"/><circle cx="1328.5" cy="1068.0" r="3.8"/><circle cx="1337.1" cy="1019.8" r="3.8"/><circle cx="1340.9" cy="997.4" r="3.8"/></g>
<path d="M173.4,1272.0C173.6,1272.2 173.7,1272.1 174.6,1273.4C175.5,1274.7 177.3,1277.8 179.0,1280.0C180.7,1282.2 182.7,1285.3 184.5,1286.6C186.3,1287.9 188.2,1288.2 190.0,1287.7C191.8,1287.2 193.7,1285.3 195.5,1283.3C197.3,1281.3 199.2,1278.7 201.0,1275.6C202.8,1272.5 204.7,1268.3 206.5,1264.6C208.3,1260.9 210.2,1257.6 212.0,1253.6C213.8,1249.6 215.7,1245.2 217.5,1240.4C219.3,1235.6 221.2,1230.5 223.0,1225.0C224.8,1219.5 226.7,1212.6 228.5,1207.4C230.3,1202.2 232.4,1198.5 234.0,1194.0C235.6,1189.5 236.8,1185.9 238.3,1180.4C239.8,1174.9 241.5,1167.6 243.1,1161.2C244.7,1154.8 246.3,1148.3 247.9,1141.9C249.5,1135.5 251.4,1128.5 252.8,1122.6C254.2,1116.6 255.3,1111.8 256.6,1106.2C257.9,1100.6 259.2,1094.5 260.5,1088.9C261.8,1083.3 263.2,1076.3 264.3,1072.5C265.4,1068.7 266.2,1066.3 267.2,1065.8C268.2,1065.3 269.1,1067.3 270.1,1069.6C271.1,1071.8 272.0,1075.3 273.0,1079.3C274.0,1083.3 274.9,1087.8 275.9,1093.7C276.9,1099.7 277.9,1105.6 278.8,1115.0C279.7,1124.4 280.4,1138.3 281.2,1150.0C282.0,1161.7 283.2,1175.3 283.9,1185.0C284.6,1194.7 285.0,1200.5 285.5,1208.0C286.0,1215.5 286.3,1222.5 286.8,1230.0C287.3,1237.5 287.7,1245.7 288.3,1253.0C288.9,1260.3 289.5,1267.7 290.6,1273.7C291.7,1279.7 293.7,1286.1 294.7,1289.2C295.7,1292.3 295.9,1293.2 296.8,1292.3C297.7,1291.4 298.9,1288.0 299.9,1284.0C300.9,1280.0 302.0,1273.4 303.0,1268.6C304.0,1263.8 305.1,1260.1 306.1,1255.0C307.1,1249.9 308.2,1243.7 309.2,1238.0C310.2,1232.3 311.3,1226.5 312.3,1221.0C313.3,1215.5 314.4,1210.3 315.4,1205.0C316.4,1199.7 317.5,1195.7 318.5,1189.0C319.5,1182.3 320.5,1173.7 321.5,1165.0C322.5,1156.3 323.1,1151.2 324.3,1137.0C325.6,1122.8 327.7,1095.3 329.0,1080.0C330.3,1064.7 331.0,1055.6 332.0,1045.0C333.0,1034.4 333.7,1027.6 335.0,1016.2C336.3,1004.8 338.1,987.0 339.6,976.8C341.1,966.6 342.5,961.0 344.0,955.0C345.5,949.0 346.9,944.7 348.7,940.5C350.4,936.3 352.5,932.8 354.5,930.0C356.5,927.2 358.8,925.2 360.8,923.9C362.9,922.6 365.4,921.9 366.8,922.4C368.2,922.9 367.6,923.9 369.1,926.9C370.6,930.0 373.7,932.7 376.0,940.7C378.3,948.7 380.8,963.0 382.8,975.1C384.8,987.1 386.2,1001.6 388.0,1012.9C389.8,1024.2 391.7,1032.8 393.4,1043.0C395.1,1053.2 396.6,1064.0 398.0,1074.0C399.4,1084.0 400.4,1091.0 401.5,1103.0C402.6,1115.0 403.4,1134.5 404.4,1146.0C405.4,1157.5 406.5,1164.0 407.5,1172.0C408.5,1180.0 409.1,1185.7 410.4,1194.0C411.6,1202.3 413.6,1213.2 415.0,1222.0C416.4,1230.8 417.7,1239.3 419.1,1246.6C420.5,1253.9 422.1,1260.2 423.5,1266.0C424.9,1271.8 426.4,1276.7 427.8,1281.2C429.2,1285.7 430.7,1292.3 432.1,1292.8C433.5,1293.3 434.9,1291.8 436.4,1284.1C437.8,1276.4 439.4,1262.5 440.8,1246.6C442.2,1230.7 443.9,1205.6 445.1,1188.8C446.3,1172.0 446.9,1162.2 448.0,1145.5C449.1,1128.8 450.2,1105.0 451.6,1088.6C453.1,1072.2 455.1,1055.6 456.8,1047.3C458.5,1039.0 460.2,1038.1 462.0,1038.7C463.7,1039.3 465.3,1045.0 467.1,1050.8C469.0,1056.5 471.1,1063.9 473.0,1073.1C474.8,1082.3 476.4,1095.2 478.2,1105.8C479.9,1116.4 481.3,1125.9 483.3,1136.8C485.3,1147.7 487.9,1159.7 490.2,1171.2C492.5,1182.6 494.8,1195.2 497.1,1205.6C499.4,1215.9 501.7,1224.5 504.0,1233.1C506.3,1241.7 508.5,1249.7 510.8,1257.2C513.1,1264.6 515.4,1270.9 517.7,1277.8C520.0,1284.7 522.3,1292.7 524.6,1298.4C526.9,1304.2 529.2,1309.6 531.5,1312.2C533.8,1314.8 536.1,1314.5 538.4,1313.9C540.7,1313.3 543.9,1309.8 545.2,1308.8C546.6,1307.7 545.4,1310.5 546.3,1307.7C547.2,1304.9 549.2,1297.7 550.5,1292.0C551.8,1286.3 552.4,1283.3 554.1,1273.7C555.8,1264.1 558.5,1248.4 560.7,1234.5C562.9,1220.6 565.2,1204.0 567.2,1190.1C569.2,1176.1 570.7,1164.8 572.4,1150.8C574.1,1136.8 575.9,1119.9 577.6,1106.4C579.4,1092.9 580.9,1080.2 582.9,1069.8C584.9,1059.3 587.2,1049.8 589.4,1043.7C591.6,1037.6 593.9,1035.4 595.9,1033.2C597.9,1031.0 599.3,1029.4 601.2,1030.6C603.1,1031.8 605.0,1035.4 607.2,1040.4C609.3,1045.5 611.7,1053.6 614.0,1061.1C616.3,1068.5 618.6,1078.9 620.9,1085.2C623.2,1091.5 625.5,1096.1 627.8,1098.9C630.1,1101.8 632.4,1102.9 634.7,1102.4C637.0,1101.8 639.3,1099.5 641.6,1095.5C643.9,1091.5 646.1,1083.2 648.4,1078.3C650.7,1073.4 653.0,1068.8 655.3,1066.2C657.6,1063.7 659.9,1063.1 662.2,1062.8C664.5,1062.5 666.8,1063.1 669.1,1064.5C671.4,1066.0 673.7,1068.5 676.0,1071.4C678.3,1074.3 680.5,1078.3 682.8,1081.7C685.1,1085.2 687.4,1088.6 689.7,1092.0C692.0,1095.5 694.3,1099.8 696.6,1102.4C698.9,1104.9 701.2,1107.5 703.5,1107.5C705.8,1107.5 708.1,1106.1 710.4,1102.4C712.7,1098.6 714.9,1091.5 717.2,1085.2C719.5,1078.9 721.8,1072.0 724.1,1064.5C726.4,1057.1 729.0,1046.2 731.0,1040.4C733.0,1034.7 734.4,1031.3 736.2,1030.1C737.9,1029.0 739.6,1030.7 741.3,1033.6C743.0,1036.4 744.8,1039.9 746.5,1047.3C748.2,1054.8 749.9,1066.8 751.6,1078.3C753.4,1089.7 755.1,1102.4 756.8,1116.1C758.5,1129.9 760.2,1146.5 762.0,1160.8C763.7,1175.2 765.3,1188.9 767.1,1202.1C769.0,1215.3 770.9,1227.9 773.0,1240.0C775.1,1252.0 777.6,1264.6 779.9,1274.4C782.2,1284.1 784.5,1292.1 786.8,1298.4C789.1,1304.7 791.6,1309.3 793.6,1312.2C795.6,1315.1 797.1,1316.2 798.8,1315.6C800.5,1315.1 802.0,1312.8 804.0,1308.8C806.0,1304.7 808.5,1297.9 810.8,1291.6C813.1,1285.2 815.4,1278.9 817.7,1270.9C820.0,1262.9 822.3,1253.1 824.6,1243.4C826.9,1233.7 829.2,1222.8 831.5,1212.4C833.8,1202.1 836.1,1192.4 838.4,1181.5C840.7,1170.6 842.9,1158.5 845.2,1147.1C847.5,1135.6 849.8,1123.6 852.1,1112.7C854.4,1101.8 856.7,1091.5 859.0,1081.7C861.3,1072.0 863.6,1061.9 865.9,1054.2C868.2,1046.5 870.8,1037.0 872.8,1035.3C874.8,1033.6 876.4,1037.5 877.9,1043.9C879.5,1050.3 880.6,1064.2 882.0,1073.8C883.4,1083.4 884.7,1089.8 886.1,1101.3C887.5,1112.8 888.9,1126.5 890.3,1142.5C891.7,1158.5 893.3,1181.5 894.4,1197.6C895.5,1213.6 896.2,1228.7 897.1,1238.8C898.0,1248.9 898.8,1253.1 899.9,1258.0C901.0,1262.9 902.6,1266.7 904.0,1268.0C905.4,1269.3 906.6,1268.0 908.0,1266.0C909.4,1264.0 910.7,1261.7 912.3,1256.0C913.9,1250.3 916.0,1241.7 917.8,1232.0C919.6,1222.3 921.5,1208.4 923.3,1197.6C925.1,1186.8 927.0,1178.8 928.8,1167.3C930.6,1155.8 932.7,1140.3 934.3,1128.8C935.9,1117.3 937.0,1108.6 938.4,1098.5C939.8,1088.4 940.7,1088.7 942.5,1068.3C944.3,1047.9 947.1,995.8 949.1,976.3C951.1,956.8 952.5,958.4 954.6,951.5C956.7,944.6 959.4,939.1 961.5,935.0C963.6,930.9 965.2,928.8 967.0,926.8C968.8,924.8 970.7,923.5 972.5,923.3C974.3,923.1 976.2,923.9 978.0,925.4C979.8,926.9 981.7,929.1 983.5,932.3C985.3,935.5 987.7,938.6 989.0,944.6C990.3,950.6 990.2,958.5 991.4,968.2C992.7,977.9 994.9,990.0 996.6,1002.6C998.3,1015.2 1000.0,1029.5 1001.8,1043.9C1003.5,1058.2 1005.2,1073.7 1006.9,1088.6C1008.6,1103.5 1010.4,1118.4 1012.1,1133.3C1013.8,1148.2 1015.5,1163.7 1017.2,1178.0C1019.0,1192.4 1020.4,1206.1 1022.4,1219.3C1024.4,1232.5 1027.2,1245.7 1029.3,1257.2C1031.4,1268.6 1033.4,1282.4 1035.1,1288.1C1036.8,1293.8 1038.0,1296.1 1039.6,1291.6C1041.2,1287.0 1043.0,1275.5 1044.8,1260.6C1046.5,1245.7 1048.2,1221.6 1049.9,1202.1C1051.6,1182.6 1053.4,1162.0 1055.1,1143.6C1056.8,1125.3 1058.5,1103.5 1060.2,1092.0C1062.0,1080.6 1063.7,1078.3 1065.4,1074.8C1067.1,1071.4 1069.2,1070.3 1070.6,1071.4C1071.9,1072.5 1071.7,1075.4 1073.5,1081.7C1075.2,1088.0 1078.5,1100.1 1080.8,1109.2C1083.2,1118.4 1085.4,1127.6 1087.7,1136.8C1090.0,1145.9 1092.3,1155.7 1094.6,1164.3C1096.9,1172.9 1099.2,1179.8 1101.5,1188.4C1103.8,1197.0 1106.1,1208.4 1108.4,1215.9C1110.7,1223.3 1112.4,1226.8 1115.2,1233.1C1118.1,1239.4 1122.1,1248.0 1125.6,1253.7C1129.0,1259.5 1132.4,1262.9 1135.9,1267.5C1139.3,1272.1 1143.3,1278.7 1146.2,1281.2C1149.1,1283.8 1150.8,1284.1 1153.1,1283.0C1155.4,1281.8 1157.7,1279.2 1160.0,1274.4C1162.3,1269.5 1164.5,1262.3 1166.8,1253.7C1169.1,1245.1 1171.4,1234.8 1173.7,1222.8C1176.0,1210.7 1178.3,1195.8 1180.6,1181.5C1182.9,1167.1 1185.2,1152.2 1187.5,1136.8C1189.8,1121.3 1192.1,1101.2 1194.4,1088.6C1196.7,1076.0 1198.9,1067.4 1201.2,1061.1C1203.5,1054.8 1205.8,1053.3 1208.1,1050.8C1210.4,1048.2 1212.7,1046.5 1215.0,1045.6C1217.3,1044.7 1219.6,1044.7 1221.9,1045.6C1224.2,1046.5 1226.5,1048.8 1228.8,1050.8C1231.1,1052.8 1233.3,1055.9 1235.6,1057.6C1237.9,1059.4 1239.7,1060.8 1242.5,1061.1C1245.4,1061.4 1249.4,1059.9 1252.8,1059.4C1256.3,1058.8 1260.3,1056.8 1263.2,1057.6C1266.0,1058.5 1267.2,1061.7 1270.0,1064.5C1272.9,1067.4 1277.5,1070.8 1280.4,1074.8C1283.2,1078.9 1284.9,1082.3 1287.2,1088.6C1289.5,1094.9 1291.8,1104.7 1294.1,1112.7C1296.4,1120.7 1298.7,1130.5 1301.0,1136.8C1303.3,1143.1 1305.6,1148.2 1307.9,1150.5C1310.2,1152.8 1312.8,1152.8 1314.8,1150.5C1316.8,1148.2 1318.2,1144.2 1319.9,1136.8C1321.6,1129.3 1323.4,1117.3 1325.1,1105.8C1326.8,1094.3 1328.5,1079.4 1330.2,1068.0C1332.0,1056.5 1333.6,1045.6 1335.4,1037.0C1337.2,1028.4 1340.0,1019.8 1340.9,1016.4" fill="none" stroke="#1f77b4" stroke-width="4.8" stroke-linejoin="round" stroke-linecap="square"/>
<path d="M173.4,1236.0C173.6,1236.9 174.2,1235.6 174.6,1241.5C175.0,1247.4 175.0,1265.7 175.7,1271.2C176.4,1276.7 177.5,1274.1 179.0,1274.5C180.5,1274.9 183.0,1273.2 184.5,1273.4C186.0,1273.6 186.3,1275.0 187.8,1275.6C189.3,1276.1 191.5,1276.7 193.3,1276.7C195.1,1276.7 197.2,1277.6 198.8,1275.6C200.5,1273.6 201.4,1269.0 203.2,1264.6C205.0,1260.2 207.8,1254.0 209.8,1249.2C211.8,1244.4 213.5,1241.0 215.3,1236.0C217.1,1231.0 219.0,1225.2 220.8,1219.5C222.6,1213.8 224.4,1208.0 226.3,1201.5C228.2,1195.0 230.7,1187.1 232.5,1180.4C234.3,1173.7 235.7,1167.6 237.3,1161.2C238.9,1154.8 240.6,1148.3 242.2,1141.9C243.8,1135.5 245.6,1128.5 247.0,1122.6C248.4,1116.6 249.5,1111.0 250.8,1106.2C252.1,1101.4 253.4,1097.2 254.7,1093.7C256.0,1090.2 257.2,1087.4 258.5,1085.0C259.8,1082.6 261.3,1080.1 262.4,1079.3C263.5,1078.5 264.3,1079.1 265.3,1080.2C266.3,1081.3 267.2,1083.0 268.2,1086.0C269.2,1089.0 270.1,1093.2 271.1,1098.5C272.1,1103.8 273.1,1110.0 274.0,1117.8C274.9,1125.5 275.6,1136.6 276.5,1145.0C277.4,1153.4 278.5,1159.4 279.5,1168.0C280.5,1176.6 281.4,1188.2 282.4,1196.4C283.4,1204.6 284.3,1210.1 285.5,1217.0C286.7,1223.9 288.2,1231.6 289.6,1237.6C291.0,1243.6 292.3,1249.4 293.7,1253.1C295.1,1256.8 296.4,1258.8 297.8,1259.5C299.2,1260.2 300.8,1259.1 302.0,1257.2C303.2,1255.3 304.1,1252.0 305.1,1247.9C306.1,1243.8 307.1,1238.5 308.1,1232.5C309.1,1226.5 310.2,1218.8 311.2,1211.9C312.2,1205.0 313.3,1198.1 314.3,1191.2C315.3,1184.3 316.4,1177.0 317.4,1170.6C318.4,1164.2 319.4,1159.3 320.5,1153.0C321.6,1146.7 323.1,1140.7 324.3,1133.0C325.5,1125.3 326.5,1116.4 327.5,1107.0C328.5,1097.6 329.6,1085.9 330.5,1076.7C331.4,1067.5 332.2,1059.6 333.0,1052.0C333.8,1044.4 334.2,1039.0 335.0,1031.3C335.8,1023.6 337.0,1013.6 338.0,1006.0C339.0,998.4 340.0,992.1 341.1,985.9C342.2,979.7 343.2,974.0 344.5,969.0C345.8,964.0 347.3,959.9 348.7,955.6C350.1,951.3 351.5,946.5 353.0,943.0C354.5,939.5 356.3,936.7 357.7,934.5C359.1,932.3 360.2,931.0 361.5,930.0C362.8,929.0 363.8,927.8 365.3,928.4C366.8,929.0 368.7,929.5 370.8,933.8C372.9,938.1 375.7,947.0 377.7,954.4C379.7,961.9 381.7,973.2 382.8,978.5C384.0,983.9 383.4,980.4 384.4,986.6C385.4,992.8 387.3,1005.6 388.8,1015.5C390.3,1025.4 391.9,1035.9 393.4,1046.0C394.9,1056.1 396.6,1066.3 398.0,1076.0C399.4,1085.7 400.4,1092.3 401.5,1104.0C402.6,1115.7 403.4,1135.0 404.4,1146.0C405.4,1157.0 406.5,1162.8 407.5,1170.0C408.5,1177.2 408.9,1181.5 410.4,1189.5C411.8,1197.5 414.3,1209.2 416.2,1217.7C418.1,1226.2 420.4,1235.1 422.0,1240.8C423.6,1246.5 424.8,1249.1 426.0,1252.0C427.2,1254.9 428.1,1257.3 429.2,1258.1C430.3,1258.9 431.5,1258.0 432.5,1257.0C433.5,1256.0 433.9,1256.5 435.0,1252.3C436.1,1248.1 437.9,1242.7 439.3,1232.1C440.7,1221.5 442.4,1200.8 443.6,1188.8C444.8,1176.8 445.4,1170.5 446.5,1159.9C447.6,1149.3 448.9,1134.3 450.0,1125.3C451.1,1116.3 451.9,1112.5 453.4,1105.8C454.8,1099.1 456.8,1090.0 458.5,1085.2C460.2,1080.3 462.0,1077.1 463.7,1076.6C465.4,1076.0 467.3,1079.4 468.8,1081.7C470.4,1084.0 471.4,1084.0 473.0,1090.3C474.5,1096.6 476.4,1110.1 478.2,1119.6C479.9,1129.0 481.3,1137.3 483.3,1147.1C485.3,1156.8 487.9,1168.3 490.2,1178.0C492.5,1187.8 494.8,1196.4 497.1,1205.6C499.4,1214.7 501.7,1225.1 504.0,1233.1C506.3,1241.1 508.5,1246.8 510.8,1253.7C513.1,1260.6 515.4,1268.6 517.7,1274.4C520.0,1280.1 522.3,1284.1 524.6,1288.1C526.9,1292.1 529.2,1296.4 531.5,1298.4C533.8,1300.4 535.9,1301.4 538.4,1300.2C540.8,1298.9 543.8,1295.4 546.0,1291.0C548.2,1286.6 549.3,1283.1 551.5,1273.7C553.7,1264.3 556.7,1249.8 559.3,1234.5C561.9,1219.2 565.0,1197.5 567.2,1182.2C569.4,1167.0 570.7,1154.8 572.4,1143.0C574.1,1131.2 575.9,1122.5 577.6,1111.6C579.4,1100.7 581.1,1086.3 582.9,1077.6C584.6,1068.9 586.4,1064.1 588.1,1059.3C589.8,1054.5 591.3,1051.5 593.3,1048.9C595.3,1046.3 597.9,1042.8 599.9,1043.7C601.9,1044.6 603.7,1050.2 605.4,1054.2C607.2,1058.2 608.6,1063.4 610.6,1068.0C612.6,1072.5 615.2,1077.7 617.5,1081.7C619.8,1085.7 622.1,1089.7 624.4,1092.0C626.7,1094.3 628.9,1095.5 631.2,1095.5C633.5,1095.5 635.8,1094.3 638.1,1092.0C640.4,1089.7 642.7,1085.2 645.0,1081.7C647.3,1078.3 649.6,1074.0 651.9,1071.4C654.2,1068.8 656.5,1067.1 658.8,1066.2C661.1,1065.4 663.3,1065.4 665.6,1066.2C667.9,1067.1 670.2,1069.4 672.5,1071.4C674.8,1073.4 677.1,1075.7 679.4,1078.3C681.7,1080.9 684.0,1084.3 686.3,1086.9C688.6,1089.5 690.9,1092.0 693.2,1093.8C695.5,1095.5 697.7,1097.2 700.0,1097.2C702.3,1097.2 704.6,1096.3 706.9,1093.8C709.2,1091.2 711.5,1086.0 713.8,1081.7C716.1,1077.4 718.4,1072.8 720.7,1068.0C723.0,1063.1 725.3,1055.9 727.6,1052.5C729.9,1049.0 732.4,1047.3 734.4,1047.3C736.4,1047.3 737.9,1049.0 739.6,1052.5C741.3,1055.9 743.0,1060.2 744.8,1068.0C746.5,1075.7 748.2,1087.5 749.9,1098.9C751.6,1110.4 753.4,1124.1 755.1,1136.8C756.8,1149.4 758.5,1162.6 760.2,1174.6C762.0,1186.6 763.7,1198.7 765.4,1209.0C767.1,1219.3 769.3,1230.5 770.6,1236.5C771.8,1242.5 771.4,1240.0 773.0,1245.1C774.5,1250.3 777.6,1260.3 779.9,1267.5C782.2,1274.6 784.5,1282.7 786.8,1288.1C789.1,1293.6 791.6,1297.6 793.6,1300.2C795.6,1302.7 797.1,1304.2 798.8,1303.6C800.5,1303.0 802.0,1300.4 804.0,1296.7C806.0,1293.0 808.5,1287.3 810.8,1281.2C813.1,1275.2 815.4,1268.1 817.7,1260.6C820.0,1253.1 822.3,1245.1 824.6,1236.5C826.9,1227.9 829.2,1218.2 831.5,1209.0C833.8,1199.8 836.1,1191.2 838.4,1181.5C840.7,1171.7 842.9,1160.8 845.2,1150.5C847.5,1140.2 849.8,1128.7 852.1,1119.6C854.4,1110.4 856.7,1103.5 859.0,1095.5C861.3,1087.5 864.0,1076.8 865.9,1071.4C867.8,1066.0 868.5,1062.4 870.3,1062.8C872.1,1063.2 874.8,1067.4 876.5,1073.8C878.2,1080.2 879.2,1091.7 880.6,1101.3C882.0,1110.9 883.4,1120.5 884.8,1131.5C886.2,1142.5 887.5,1156.3 888.9,1167.3C890.3,1178.3 891.6,1188.0 893.0,1197.6C894.4,1207.2 895.7,1217.5 897.1,1225.1C898.5,1232.7 899.9,1238.4 901.3,1243.0C902.7,1247.6 904.0,1252.1 905.4,1252.6C906.8,1253.0 908.1,1249.6 909.5,1245.7C910.9,1241.8 912.2,1235.4 913.6,1229.2C915.0,1223.0 916.4,1216.2 917.8,1208.6C919.2,1201.0 920.5,1191.8 921.9,1183.8C923.3,1175.8 924.6,1169.1 926.0,1160.4C927.4,1151.7 928.8,1141.3 930.2,1131.5C931.6,1121.7 932.9,1110.9 934.3,1101.3C935.7,1091.7 937.1,1083.2 938.4,1073.8C939.7,1064.4 941.0,1054.5 942.3,1045.1C943.6,1035.7 945.0,1026.3 946.4,1017.6C947.8,1008.9 949.1,1000.1 950.5,992.8C951.9,985.4 953.2,979.5 954.6,973.5C956.0,967.5 957.2,962.0 958.8,957.0C960.4,952.0 962.5,946.7 964.3,943.3C966.1,939.9 968.2,937.8 969.8,936.4C971.4,935.0 972.3,934.3 973.9,935.0C975.5,935.7 977.6,937.5 979.4,940.5C981.2,943.5 983.1,946.9 984.9,952.9C986.7,958.9 988.3,966.9 990.0,976.3C991.7,985.7 993.2,997.6 994.9,1009.5C996.6,1021.3 998.3,1034.7 1000.0,1047.3C1001.8,1059.9 1003.5,1072.0 1005.2,1085.2C1006.9,1098.3 1008.6,1113.3 1010.4,1126.4C1012.1,1139.6 1013.8,1152.2 1015.5,1164.3C1017.2,1176.3 1018.7,1187.2 1020.7,1198.7C1022.7,1210.1 1025.3,1223.9 1027.6,1233.1C1029.9,1242.3 1032.4,1250.9 1034.4,1253.7C1036.4,1256.6 1037.9,1254.9 1039.6,1250.3C1041.3,1245.7 1043.0,1237.1 1044.8,1226.2C1046.5,1215.3 1048.2,1199.3 1049.9,1184.9C1051.6,1170.6 1053.4,1152.2 1055.1,1140.2C1056.8,1128.2 1058.5,1119.0 1060.2,1112.7C1062.0,1106.4 1063.7,1103.5 1065.4,1102.4C1067.1,1101.2 1069.2,1105.2 1070.6,1105.8C1071.9,1106.4 1071.7,1103.5 1073.5,1105.8C1075.2,1108.1 1078.5,1113.3 1080.8,1119.6C1083.2,1125.9 1085.4,1135.6 1087.7,1143.6C1090.0,1151.7 1092.3,1159.7 1094.6,1167.7C1096.9,1175.7 1099.2,1184.3 1101.5,1191.8C1103.8,1199.3 1106.1,1206.1 1108.4,1212.4C1110.7,1218.7 1112.9,1224.5 1115.2,1229.6C1117.5,1234.8 1119.3,1238.8 1122.1,1243.4C1125.0,1248.0 1129.0,1252.6 1132.4,1257.2C1135.9,1261.7 1139.9,1267.8 1142.8,1270.9C1145.6,1274.1 1147.3,1276.1 1149.6,1276.1C1151.9,1276.1 1154.2,1274.6 1156.5,1270.9C1158.8,1267.2 1161.1,1261.2 1163.4,1253.7C1165.7,1246.3 1168.0,1236.5 1170.3,1226.2C1172.6,1215.9 1175.2,1203.3 1177.2,1191.8C1179.2,1180.3 1180.6,1168.9 1182.3,1157.4C1184.0,1145.9 1185.8,1133.9 1187.5,1123.0C1189.2,1112.1 1190.6,1101.2 1192.6,1092.0C1194.6,1082.9 1196.9,1074.8 1199.5,1068.0C1202.1,1061.1 1205.0,1054.8 1208.1,1050.8C1211.3,1046.7 1215.6,1044.5 1218.4,1043.9C1221.3,1043.3 1222.7,1044.5 1225.3,1047.3C1227.9,1050.2 1231.6,1058.5 1233.9,1061.1C1236.2,1063.7 1236.8,1063.7 1239.1,1062.8C1241.4,1061.9 1244.8,1057.1 1247.7,1055.9C1250.5,1054.8 1253.1,1056.5 1256.3,1055.9C1259.4,1055.3 1263.7,1051.0 1266.6,1052.5C1269.5,1053.9 1271.2,1061.4 1273.5,1064.5C1275.8,1067.7 1278.1,1068.5 1280.4,1071.4C1282.7,1074.3 1284.9,1076.6 1287.2,1081.7C1289.5,1086.9 1291.8,1096.1 1294.1,1102.4C1296.4,1108.7 1298.7,1114.7 1301.0,1119.6C1303.3,1124.4 1305.6,1129.9 1307.9,1131.6C1310.2,1133.3 1312.8,1133.0 1314.8,1129.9C1316.8,1126.7 1318.2,1120.1 1319.9,1112.7C1321.6,1105.2 1323.1,1093.8 1325.1,1085.2C1327.1,1076.6 1329.7,1069.1 1332.0,1061.1C1334.3,1053.1 1337.3,1041.6 1338.8,1037.0C1340.3,1032.4 1340.6,1034.1 1340.9,1033.6" fill="none" stroke="#ff7f0e" stroke-width="4.8" stroke-linejoin="round" stroke-linecap="square"/>
</g>
<rect x="173.4" y="868.6" width="1168.7" height="492.7" fill="none" stroke="#000" stroke-width="2.6" stroke-linejoin="miter"/>
<path d="M173.4,1361.3v11.5M369.6,1361.3v11.5M565.8,1361.3v11.5M762.0,1361.3v11.5M958.2,1361.3v11.5M1154.4,1361.3v11.5M173.4,923.2h-11.5M173.4,1031.9h-11.5M173.4,1140.6h-11.5M173.4,1249.3h-11.5M173.4,1358.0h-11.5" stroke="#000" stroke-width="2.6" fill="none"/>
<g class="tl"><text x="173.4" y="1404.3" text-anchor="middle">0.0</text><text x="369.6" y="1404.3" text-anchor="middle">0.5</text><text x="565.8" y="1404.3" text-anchor="middle">1.0</text><text x="762.0" y="1404.3" text-anchor="middle">1.5</text><text x="958.2" y="1404.3" text-anchor="middle">2.0</text><text x="1154.4" y="1404.3" text-anchor="middle">2.5</text><text x="151.6" y="933.2" text-anchor="end">1.0</text><text x="151.6" y="1041.9" text-anchor="end">0.5</text><text x="151.6" y="1150.6" text-anchor="end">0.0</text><text x="151.6" y="1259.3" text-anchor="end">-0.5</text><text x="151.6" y="1368.0" text-anchor="end">-1.0</text></g>
<g class="ttl"><text class="mi" x="728.0" y="848.6">α</text><text class="ms" x="745.6" y="852.9">0</text><text class="mr" x="757.6" y="847.1">(</text><text class="mi" x="767.6" y="848.6">t</text><text class="mr" x="779.6" y="847.1">)</text><circle cx="735.4" cy="826.7" r="1.7"/><circle cx="740.3" cy="826.7" r="1.7"/></g>
<text class="yl" transform="translate(31.6,476.4) rotate(-90)" text-anchor="middle">angular</text><text class="yl" transform="translate(60.2,476.4) rotate(-90)" text-anchor="middle"><tspan letter-spacing="-0.36">displacement</tspan></text><text class="yl" transform="translate(88.9,476.4) rotate(-90)" text-anchor="middle">[rad]</text>
<text class="yl" transform="translate(25.1,1115.0) rotate(-90)" text-anchor="middle">angular</text><text class="yl" transform="translate(53.8,1115.0) rotate(-90)" text-anchor="middle">acceleration</text><text class="yl" transform="translate(88.3,1115.0) rotate(-90)" text-anchor="middle">[rad/<tspan class="it">s</tspan><tspan class="sup" dy="-12">2</tspan><tspan dy="12">]</tspan></text>
<text class="xl" x="757.8" y="1442.4" text-anchor="middle" style="font-size:27px;letter-spacing:-0.5px">time [s]</text>
<rect x="1221.6" y="3.2" width="269.1" height="160.6" rx="6" ry="6" fill="#fff" fill-opacity="0.8" stroke="#d4d4d4" stroke-width="2.4"/>
<path d="M1229.2,23.4H1287.8" stroke="#1f77b4" stroke-width="4.8"/>
<path d="M1229.2,61.6H1287.8" stroke="#ff7f0e" stroke-width="4.8"/>
<rect x="1231.9" y="90.5" width="52.7" height="17.8" fill="#94cf94"/>
<circle cx="1258.5" cy="140.4" r="3.7" fill="#dc1f28"/>
<text class="lg" x="1307.1" y="32.8" letter-spacing="0.43">ground truth</text>
<text class="lg" x="1307.1" y="71.0">predicted mean</text>
<text class="lg" x="1307.1" y="108.5">2-<tspan class="it">σ</tspan> range</text>
<text class="lg" x="1307.1" y="147.5" letter-spacing="-0.38">noisy samples</text>
</svg>
</body></html>
